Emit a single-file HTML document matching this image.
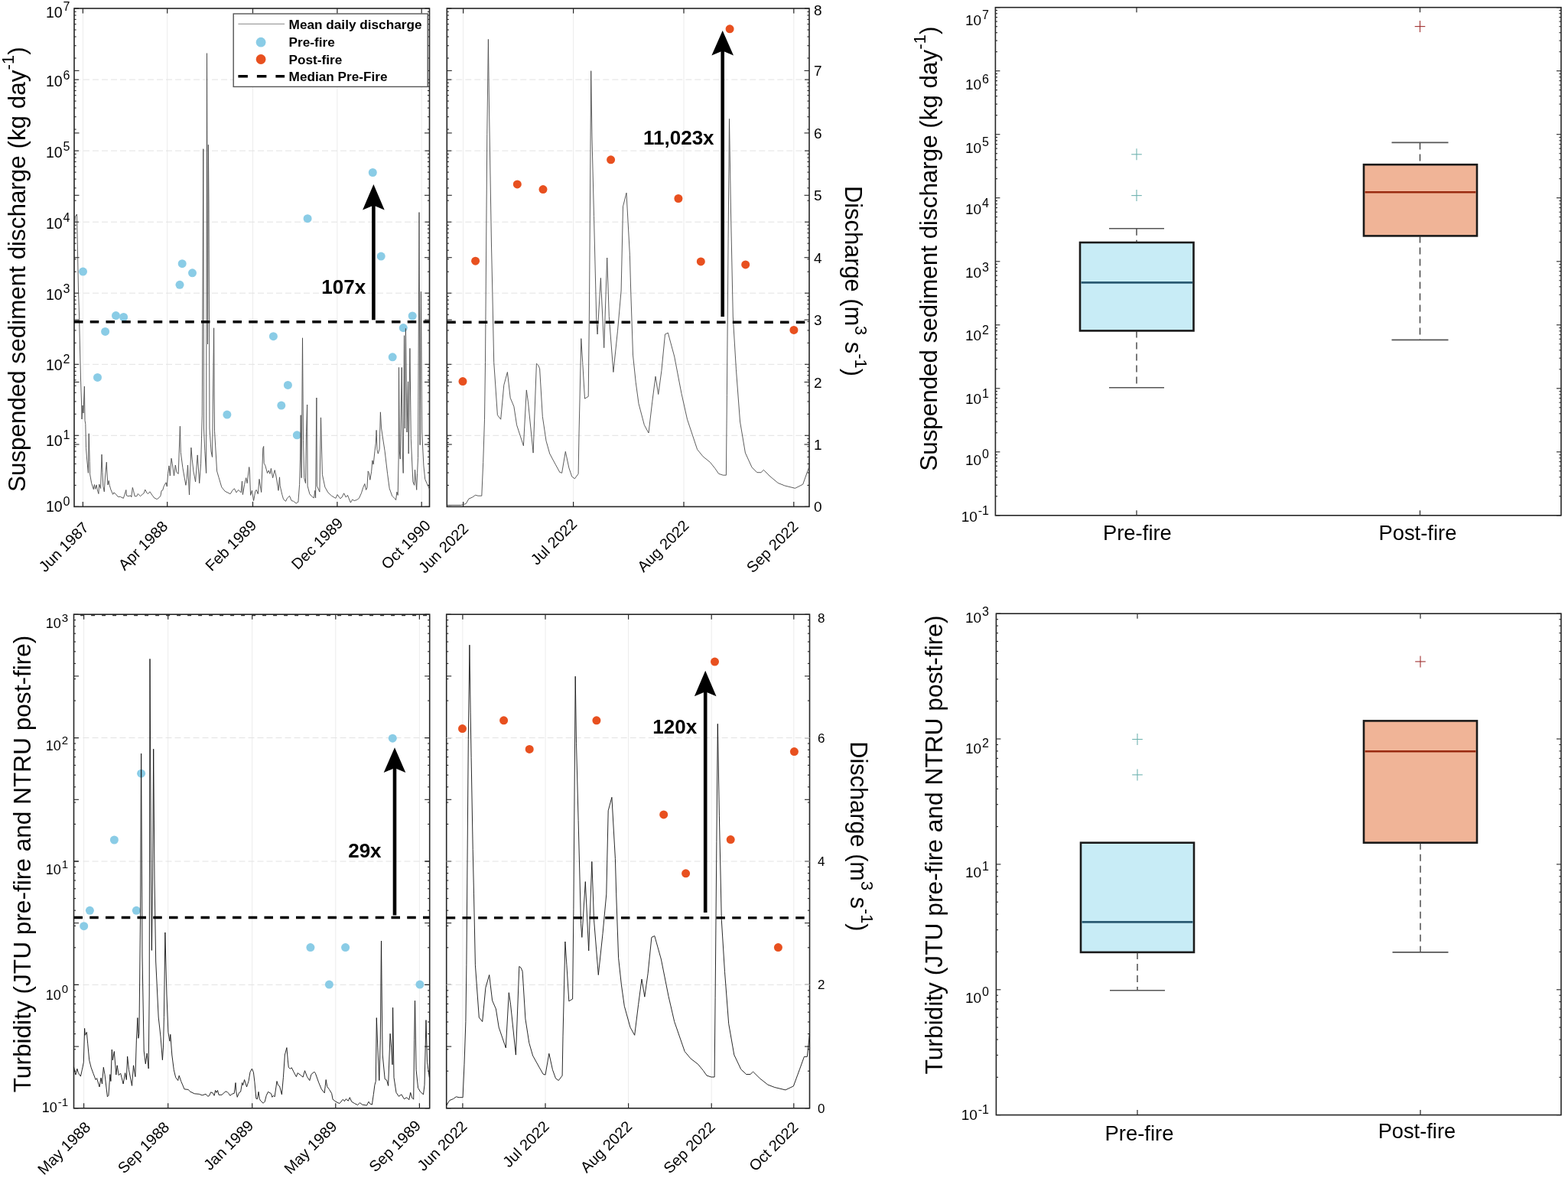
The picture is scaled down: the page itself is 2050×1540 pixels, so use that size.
<!DOCTYPE html><html><head><meta charset="utf-8"><style>html,body{margin:0;padding:0;background:#fff;overflow:hidden}svg{display:block}</style></head><body><svg width="2050" height="1540" viewBox="0 0 2050 1540" font-family='"Liberation Sans", Arial, sans-serif'>
<rect width="2050" height="1540" fill="#fff"/>
<line x1="108.4" y1="11" x2="108.4" y2="662.4" stroke="#ececec" stroke-width="1" />
<line x1="218.7" y1="11" x2="218.7" y2="662.4" stroke="#ececec" stroke-width="1" />
<line x1="330.5" y1="11" x2="330.5" y2="662.4" stroke="#ececec" stroke-width="1" />
<line x1="440.9" y1="11" x2="440.9" y2="662.4" stroke="#ececec" stroke-width="1" />
<line x1="551.2" y1="11" x2="551.2" y2="662.4" stroke="#ececec" stroke-width="1" />
<line x1="97" y1="569.3" x2="561.5" y2="569.3" stroke="#e2e2e2" stroke-width="1" stroke-dasharray="8,4"/>
<line x1="97" y1="476.3" x2="561.5" y2="476.3" stroke="#e2e2e2" stroke-width="1" stroke-dasharray="8,4"/>
<line x1="97" y1="383.2" x2="561.5" y2="383.2" stroke="#e2e2e2" stroke-width="1" stroke-dasharray="8,4"/>
<line x1="97" y1="290.2" x2="561.5" y2="290.2" stroke="#e2e2e2" stroke-width="1" stroke-dasharray="8,4"/>
<line x1="97" y1="197.1" x2="561.5" y2="197.1" stroke="#e2e2e2" stroke-width="1" stroke-dasharray="8,4"/>
<line x1="97" y1="104.1" x2="561.5" y2="104.1" stroke="#e2e2e2" stroke-width="1" stroke-dasharray="8,4"/>
<line x1="97" y1="662.4" x2="103" y2="662.4" stroke="#262626" stroke-width="1.1" />
<line x1="561.5" y1="662.4" x2="555.5" y2="662.4" stroke="#262626" stroke-width="1.1" />
<line x1="97" y1="634.4" x2="99.6" y2="634.4" stroke="#262626" stroke-width="1.1" />
<line x1="561.5" y1="634.4" x2="558.9" y2="634.4" stroke="#262626" stroke-width="1.1" />
<line x1="97" y1="618" x2="99.6" y2="618" stroke="#262626" stroke-width="1.1" />
<line x1="561.5" y1="618" x2="558.9" y2="618" stroke="#262626" stroke-width="1.1" />
<line x1="97" y1="606.4" x2="99.6" y2="606.4" stroke="#262626" stroke-width="1.1" />
<line x1="561.5" y1="606.4" x2="558.9" y2="606.4" stroke="#262626" stroke-width="1.1" />
<line x1="97" y1="597.4" x2="99.6" y2="597.4" stroke="#262626" stroke-width="1.1" />
<line x1="561.5" y1="597.4" x2="558.9" y2="597.4" stroke="#262626" stroke-width="1.1" />
<line x1="97" y1="590" x2="99.6" y2="590" stroke="#262626" stroke-width="1.1" />
<line x1="561.5" y1="590" x2="558.9" y2="590" stroke="#262626" stroke-width="1.1" />
<line x1="97" y1="583.8" x2="99.6" y2="583.8" stroke="#262626" stroke-width="1.1" />
<line x1="561.5" y1="583.8" x2="558.9" y2="583.8" stroke="#262626" stroke-width="1.1" />
<line x1="97" y1="578.4" x2="99.6" y2="578.4" stroke="#262626" stroke-width="1.1" />
<line x1="561.5" y1="578.4" x2="558.9" y2="578.4" stroke="#262626" stroke-width="1.1" />
<line x1="97" y1="573.6" x2="99.6" y2="573.6" stroke="#262626" stroke-width="1.1" />
<line x1="561.5" y1="573.6" x2="558.9" y2="573.6" stroke="#262626" stroke-width="1.1" />
<line x1="97" y1="569.3" x2="103" y2="569.3" stroke="#262626" stroke-width="1.1" />
<line x1="561.5" y1="569.3" x2="555.5" y2="569.3" stroke="#262626" stroke-width="1.1" />
<line x1="97" y1="541.3" x2="99.6" y2="541.3" stroke="#262626" stroke-width="1.1" />
<line x1="561.5" y1="541.3" x2="558.9" y2="541.3" stroke="#262626" stroke-width="1.1" />
<line x1="97" y1="524.9" x2="99.6" y2="524.9" stroke="#262626" stroke-width="1.1" />
<line x1="561.5" y1="524.9" x2="558.9" y2="524.9" stroke="#262626" stroke-width="1.1" />
<line x1="97" y1="513.3" x2="99.6" y2="513.3" stroke="#262626" stroke-width="1.1" />
<line x1="561.5" y1="513.3" x2="558.9" y2="513.3" stroke="#262626" stroke-width="1.1" />
<line x1="97" y1="504.3" x2="99.6" y2="504.3" stroke="#262626" stroke-width="1.1" />
<line x1="561.5" y1="504.3" x2="558.9" y2="504.3" stroke="#262626" stroke-width="1.1" />
<line x1="97" y1="496.9" x2="99.6" y2="496.9" stroke="#262626" stroke-width="1.1" />
<line x1="561.5" y1="496.9" x2="558.9" y2="496.9" stroke="#262626" stroke-width="1.1" />
<line x1="97" y1="490.7" x2="99.6" y2="490.7" stroke="#262626" stroke-width="1.1" />
<line x1="561.5" y1="490.7" x2="558.9" y2="490.7" stroke="#262626" stroke-width="1.1" />
<line x1="97" y1="485.3" x2="99.6" y2="485.3" stroke="#262626" stroke-width="1.1" />
<line x1="561.5" y1="485.3" x2="558.9" y2="485.3" stroke="#262626" stroke-width="1.1" />
<line x1="97" y1="480.5" x2="99.6" y2="480.5" stroke="#262626" stroke-width="1.1" />
<line x1="561.5" y1="480.5" x2="558.9" y2="480.5" stroke="#262626" stroke-width="1.1" />
<line x1="97" y1="476.3" x2="103" y2="476.3" stroke="#262626" stroke-width="1.1" />
<line x1="561.5" y1="476.3" x2="555.5" y2="476.3" stroke="#262626" stroke-width="1.1" />
<line x1="97" y1="448.3" x2="99.6" y2="448.3" stroke="#262626" stroke-width="1.1" />
<line x1="561.5" y1="448.3" x2="558.9" y2="448.3" stroke="#262626" stroke-width="1.1" />
<line x1="97" y1="431.9" x2="99.6" y2="431.9" stroke="#262626" stroke-width="1.1" />
<line x1="561.5" y1="431.9" x2="558.9" y2="431.9" stroke="#262626" stroke-width="1.1" />
<line x1="97" y1="420.3" x2="99.6" y2="420.3" stroke="#262626" stroke-width="1.1" />
<line x1="561.5" y1="420.3" x2="558.9" y2="420.3" stroke="#262626" stroke-width="1.1" />
<line x1="97" y1="411.2" x2="99.6" y2="411.2" stroke="#262626" stroke-width="1.1" />
<line x1="561.5" y1="411.2" x2="558.9" y2="411.2" stroke="#262626" stroke-width="1.1" />
<line x1="97" y1="403.9" x2="99.6" y2="403.9" stroke="#262626" stroke-width="1.1" />
<line x1="561.5" y1="403.9" x2="558.9" y2="403.9" stroke="#262626" stroke-width="1.1" />
<line x1="97" y1="397.6" x2="99.6" y2="397.6" stroke="#262626" stroke-width="1.1" />
<line x1="561.5" y1="397.6" x2="558.9" y2="397.6" stroke="#262626" stroke-width="1.1" />
<line x1="97" y1="392.2" x2="99.6" y2="392.2" stroke="#262626" stroke-width="1.1" />
<line x1="561.5" y1="392.2" x2="558.9" y2="392.2" stroke="#262626" stroke-width="1.1" />
<line x1="97" y1="387.5" x2="99.6" y2="387.5" stroke="#262626" stroke-width="1.1" />
<line x1="561.5" y1="387.5" x2="558.9" y2="387.5" stroke="#262626" stroke-width="1.1" />
<line x1="97" y1="383.2" x2="103" y2="383.2" stroke="#262626" stroke-width="1.1" />
<line x1="561.5" y1="383.2" x2="555.5" y2="383.2" stroke="#262626" stroke-width="1.1" />
<line x1="97" y1="355.2" x2="99.6" y2="355.2" stroke="#262626" stroke-width="1.1" />
<line x1="561.5" y1="355.2" x2="558.9" y2="355.2" stroke="#262626" stroke-width="1.1" />
<line x1="97" y1="338.8" x2="99.6" y2="338.8" stroke="#262626" stroke-width="1.1" />
<line x1="561.5" y1="338.8" x2="558.9" y2="338.8" stroke="#262626" stroke-width="1.1" />
<line x1="97" y1="327.2" x2="99.6" y2="327.2" stroke="#262626" stroke-width="1.1" />
<line x1="561.5" y1="327.2" x2="558.9" y2="327.2" stroke="#262626" stroke-width="1.1" />
<line x1="97" y1="318.2" x2="99.6" y2="318.2" stroke="#262626" stroke-width="1.1" />
<line x1="561.5" y1="318.2" x2="558.9" y2="318.2" stroke="#262626" stroke-width="1.1" />
<line x1="97" y1="310.8" x2="99.6" y2="310.8" stroke="#262626" stroke-width="1.1" />
<line x1="561.5" y1="310.8" x2="558.9" y2="310.8" stroke="#262626" stroke-width="1.1" />
<line x1="97" y1="304.6" x2="99.6" y2="304.6" stroke="#262626" stroke-width="1.1" />
<line x1="561.5" y1="304.6" x2="558.9" y2="304.6" stroke="#262626" stroke-width="1.1" />
<line x1="97" y1="299.2" x2="99.6" y2="299.2" stroke="#262626" stroke-width="1.1" />
<line x1="561.5" y1="299.2" x2="558.9" y2="299.2" stroke="#262626" stroke-width="1.1" />
<line x1="97" y1="294.4" x2="99.6" y2="294.4" stroke="#262626" stroke-width="1.1" />
<line x1="561.5" y1="294.4" x2="558.9" y2="294.4" stroke="#262626" stroke-width="1.1" />
<line x1="97" y1="290.2" x2="103" y2="290.2" stroke="#262626" stroke-width="1.1" />
<line x1="561.5" y1="290.2" x2="555.5" y2="290.2" stroke="#262626" stroke-width="1.1" />
<line x1="97" y1="262.2" x2="99.6" y2="262.2" stroke="#262626" stroke-width="1.1" />
<line x1="561.5" y1="262.2" x2="558.9" y2="262.2" stroke="#262626" stroke-width="1.1" />
<line x1="97" y1="245.8" x2="99.6" y2="245.8" stroke="#262626" stroke-width="1.1" />
<line x1="561.5" y1="245.8" x2="558.9" y2="245.8" stroke="#262626" stroke-width="1.1" />
<line x1="97" y1="234.1" x2="99.6" y2="234.1" stroke="#262626" stroke-width="1.1" />
<line x1="561.5" y1="234.1" x2="558.9" y2="234.1" stroke="#262626" stroke-width="1.1" />
<line x1="97" y1="225.1" x2="99.6" y2="225.1" stroke="#262626" stroke-width="1.1" />
<line x1="561.5" y1="225.1" x2="558.9" y2="225.1" stroke="#262626" stroke-width="1.1" />
<line x1="97" y1="217.8" x2="99.6" y2="217.8" stroke="#262626" stroke-width="1.1" />
<line x1="561.5" y1="217.8" x2="558.9" y2="217.8" stroke="#262626" stroke-width="1.1" />
<line x1="97" y1="211.5" x2="99.6" y2="211.5" stroke="#262626" stroke-width="1.1" />
<line x1="561.5" y1="211.5" x2="558.9" y2="211.5" stroke="#262626" stroke-width="1.1" />
<line x1="97" y1="206.1" x2="99.6" y2="206.1" stroke="#262626" stroke-width="1.1" />
<line x1="561.5" y1="206.1" x2="558.9" y2="206.1" stroke="#262626" stroke-width="1.1" />
<line x1="97" y1="201.4" x2="99.6" y2="201.4" stroke="#262626" stroke-width="1.1" />
<line x1="561.5" y1="201.4" x2="558.9" y2="201.4" stroke="#262626" stroke-width="1.1" />
<line x1="97" y1="197.1" x2="103" y2="197.1" stroke="#262626" stroke-width="1.1" />
<line x1="561.5" y1="197.1" x2="555.5" y2="197.1" stroke="#262626" stroke-width="1.1" />
<line x1="97" y1="169.1" x2="99.6" y2="169.1" stroke="#262626" stroke-width="1.1" />
<line x1="561.5" y1="169.1" x2="558.9" y2="169.1" stroke="#262626" stroke-width="1.1" />
<line x1="97" y1="152.7" x2="99.6" y2="152.7" stroke="#262626" stroke-width="1.1" />
<line x1="561.5" y1="152.7" x2="558.9" y2="152.7" stroke="#262626" stroke-width="1.1" />
<line x1="97" y1="141.1" x2="99.6" y2="141.1" stroke="#262626" stroke-width="1.1" />
<line x1="561.5" y1="141.1" x2="558.9" y2="141.1" stroke="#262626" stroke-width="1.1" />
<line x1="97" y1="132.1" x2="99.6" y2="132.1" stroke="#262626" stroke-width="1.1" />
<line x1="561.5" y1="132.1" x2="558.9" y2="132.1" stroke="#262626" stroke-width="1.1" />
<line x1="97" y1="124.7" x2="99.6" y2="124.7" stroke="#262626" stroke-width="1.1" />
<line x1="561.5" y1="124.7" x2="558.9" y2="124.7" stroke="#262626" stroke-width="1.1" />
<line x1="97" y1="118.5" x2="99.6" y2="118.5" stroke="#262626" stroke-width="1.1" />
<line x1="561.5" y1="118.5" x2="558.9" y2="118.5" stroke="#262626" stroke-width="1.1" />
<line x1="97" y1="113.1" x2="99.6" y2="113.1" stroke="#262626" stroke-width="1.1" />
<line x1="561.5" y1="113.1" x2="558.9" y2="113.1" stroke="#262626" stroke-width="1.1" />
<line x1="97" y1="108.3" x2="99.6" y2="108.3" stroke="#262626" stroke-width="1.1" />
<line x1="561.5" y1="108.3" x2="558.9" y2="108.3" stroke="#262626" stroke-width="1.1" />
<line x1="97" y1="104.1" x2="103" y2="104.1" stroke="#262626" stroke-width="1.1" />
<line x1="561.5" y1="104.1" x2="555.5" y2="104.1" stroke="#262626" stroke-width="1.1" />
<line x1="97" y1="76" x2="99.6" y2="76" stroke="#262626" stroke-width="1.1" />
<line x1="561.5" y1="76" x2="558.9" y2="76" stroke="#262626" stroke-width="1.1" />
<line x1="97" y1="59.7" x2="99.6" y2="59.7" stroke="#262626" stroke-width="1.1" />
<line x1="561.5" y1="59.7" x2="558.9" y2="59.7" stroke="#262626" stroke-width="1.1" />
<line x1="97" y1="48" x2="99.6" y2="48" stroke="#262626" stroke-width="1.1" />
<line x1="561.5" y1="48" x2="558.9" y2="48" stroke="#262626" stroke-width="1.1" />
<line x1="97" y1="39" x2="99.6" y2="39" stroke="#262626" stroke-width="1.1" />
<line x1="561.5" y1="39" x2="558.9" y2="39" stroke="#262626" stroke-width="1.1" />
<line x1="97" y1="31.6" x2="99.6" y2="31.6" stroke="#262626" stroke-width="1.1" />
<line x1="561.5" y1="31.6" x2="558.9" y2="31.6" stroke="#262626" stroke-width="1.1" />
<line x1="97" y1="25.4" x2="99.6" y2="25.4" stroke="#262626" stroke-width="1.1" />
<line x1="561.5" y1="25.4" x2="558.9" y2="25.4" stroke="#262626" stroke-width="1.1" />
<line x1="97" y1="20" x2="99.6" y2="20" stroke="#262626" stroke-width="1.1" />
<line x1="561.5" y1="20" x2="558.9" y2="20" stroke="#262626" stroke-width="1.1" />
<line x1="97" y1="15.3" x2="99.6" y2="15.3" stroke="#262626" stroke-width="1.1" />
<line x1="561.5" y1="15.3" x2="558.9" y2="15.3" stroke="#262626" stroke-width="1.1" />
<line x1="97" y1="11" x2="103" y2="11" stroke="#262626" stroke-width="1.1" />
<line x1="561.5" y1="11" x2="555.5" y2="11" stroke="#262626" stroke-width="1.1" />
<line x1="561.5" y1="581" x2="555" y2="581" stroke="#262626" stroke-width="1.1" />
<line x1="97" y1="581" x2="103.5" y2="581" stroke="#262626" stroke-width="1.1" />
<line x1="561.5" y1="499.5" x2="555" y2="499.5" stroke="#262626" stroke-width="1.1" />
<line x1="97" y1="499.5" x2="103.5" y2="499.5" stroke="#262626" stroke-width="1.1" />
<line x1="561.5" y1="418.1" x2="555" y2="418.1" stroke="#262626" stroke-width="1.1" />
<line x1="97" y1="418.1" x2="103.5" y2="418.1" stroke="#262626" stroke-width="1.1" />
<line x1="561.5" y1="336.7" x2="555" y2="336.7" stroke="#262626" stroke-width="1.1" />
<line x1="97" y1="336.7" x2="103.5" y2="336.7" stroke="#262626" stroke-width="1.1" />
<line x1="561.5" y1="255.3" x2="555" y2="255.3" stroke="#262626" stroke-width="1.1" />
<line x1="97" y1="255.3" x2="103.5" y2="255.3" stroke="#262626" stroke-width="1.1" />
<line x1="561.5" y1="173.9" x2="555" y2="173.9" stroke="#262626" stroke-width="1.1" />
<line x1="97" y1="173.9" x2="103.5" y2="173.9" stroke="#262626" stroke-width="1.1" />
<line x1="561.5" y1="92.4" x2="555" y2="92.4" stroke="#262626" stroke-width="1.1" />
<line x1="97" y1="92.4" x2="103.5" y2="92.4" stroke="#262626" stroke-width="1.1" />
<line x1="108.4" y1="662.4" x2="108.4" y2="655.9" stroke="#262626" stroke-width="1.2" />
<line x1="108.4" y1="11" x2="108.4" y2="17.5" stroke="#262626" stroke-width="1.2" />
<line x1="218.7" y1="662.4" x2="218.7" y2="655.9" stroke="#262626" stroke-width="1.2" />
<line x1="218.7" y1="11" x2="218.7" y2="17.5" stroke="#262626" stroke-width="1.2" />
<line x1="330.5" y1="662.4" x2="330.5" y2="655.9" stroke="#262626" stroke-width="1.2" />
<line x1="330.5" y1="11" x2="330.5" y2="17.5" stroke="#262626" stroke-width="1.2" />
<line x1="440.9" y1="662.4" x2="440.9" y2="655.9" stroke="#262626" stroke-width="1.2" />
<line x1="440.9" y1="11" x2="440.9" y2="17.5" stroke="#262626" stroke-width="1.2" />
<line x1="551.2" y1="662.4" x2="551.2" y2="655.9" stroke="#262626" stroke-width="1.2" />
<line x1="551.2" y1="11" x2="551.2" y2="17.5" stroke="#262626" stroke-width="1.2" />
<rect x="97" y="11" width="464.5" height="651.4" fill="none" stroke="#262626" stroke-width="1.6"/>
<circle cx="108.5" cy="355.1" r="5.5" fill="#8acce6"/>
<circle cx="238.2" cy="344.7" r="5.5" fill="#8acce6"/>
<circle cx="251.5" cy="356.8" r="5.5" fill="#8acce6"/>
<circle cx="235" cy="372.3" r="5.5" fill="#8acce6"/>
<circle cx="151.5" cy="412.6" r="5.5" fill="#8acce6"/>
<circle cx="161.6" cy="414.5" r="5.5" fill="#8acce6"/>
<circle cx="137.6" cy="433.4" r="5.5" fill="#8acce6"/>
<circle cx="127.5" cy="493.4" r="5.5" fill="#8acce6"/>
<circle cx="487.3" cy="225.5" r="5.5" fill="#8acce6"/>
<circle cx="402.1" cy="285.7" r="5.5" fill="#8acce6"/>
<circle cx="498.2" cy="335.1" r="5.5" fill="#8acce6"/>
<circle cx="539.2" cy="413" r="5.5" fill="#8acce6"/>
<circle cx="527.3" cy="428.6" r="5.5" fill="#8acce6"/>
<circle cx="357.4" cy="439.7" r="5.5" fill="#8acce6"/>
<circle cx="513.2" cy="466.8" r="5.5" fill="#8acce6"/>
<circle cx="376.4" cy="503.4" r="5.5" fill="#8acce6"/>
<circle cx="367.8" cy="530.1" r="5.5" fill="#8acce6"/>
<circle cx="296.9" cy="542.1" r="5.5" fill="#8acce6"/>
<circle cx="388.3" cy="568.8" r="5.5" fill="#8acce6"/>
<polyline points="97.5,295 98.5,283 100.5,280 101.5,330 102.5,380 103.5,410 104.5,455 105.5,495 106.5,525 107,548 108,530 109,540 110.4,505 111,549.7 111.8,554.4 112.5,585.5 113.7,601.1 115.4,618.3 116.2,566.8 117.2,603.5 117.6,619.8 119.6,631.5 122.3,639.7 123.4,633.5 124.6,639.3 126.2,633.9 127,639.3 128.9,645.5 129.7,633.1 131.6,638.5 133,594.1 134,617.5 134.8,635.4 136.3,642.8 137.5,623 139.3,604.2 140.2,623 141,633.9 142.2,628.4 143.3,634.6 144.9,640.1 147.6,646.3 148.8,644 151.1,645.5 154.2,649.4 157.4,649.4 161.3,651.4 162.8,647.1 164.8,640.5 165.5,647.9 167.9,648.7 171,647.9 171.8,649.8 173.3,637.4 174.5,641.6 176.1,648.7 178.8,648.7 180.3,645.5 183.5,648.7 186.2,646.3 188.1,644.8 189.7,640.1 192.4,644.8 193.6,645.5 195.9,642.8 199.4,647.9 201.8,651 205.3,652.6 208.8,649.8 210,647.9 211.1,641.6 212.7,640.9 214.2,635.8 217,630.8 218.3,636 219.6,619.4 221,608.9 222.3,622 224,599.2 225.3,606.2 227.5,622 229.3,608 231,617.6 233.2,619.4 235.4,557.2 236.3,591.3 238.9,611.5 242.9,634.3 244.2,626.4 245.5,608 247.5,647 249.9,585.2 251.2,600.1 252.9,615.9 255.6,629.9 258.2,594.9 260.7,631.7 262.6,606.2 263.5,573.8 264.3,543.1 265.8,194.7 266.5,560 267.8,589.6 269.6,618.5 270.5,69.7 271.5,450 272.4,189.3 273,267 274,560 276,590 277.5,597.5 279.6,428.8 280.5,563.3 283.6,615.9 286.2,624.7 289.8,636.9 294.1,642.2 301.1,645.7 303.8,641.3 306.4,638.7 309,643.9 311.7,640.4 315.2,643.9 316.5,629 317.4,646.6 319.6,633.4 321.7,624.7 323.1,631.7 325.7,610.6 326.3,615 327.6,647.4 329.4,641.3 331.6,654.5 333.8,642.2 335.1,640.4 337.3,645.7 339,626.4 340.3,635.2 341.7,643.5 343,608.9 343.8,586.1 344.7,583.5 345.2,605.4 346.9,608.9 349.5,618.5 351.3,615 353,619.4 354.4,612.4 356.6,624.7 359.2,614.6 360.9,622 364,641.3 365.5,623.8 366.2,635.2 368.8,646.6 370.6,652.7 373.6,655.3 375.4,651.4 378.5,648.3 381.1,654.5 383.7,655.3 387.2,658 389.9,656.2 391.6,633.4 392.5,600 393.2,542.7 394.2,624.7 395.5,441.8 396.5,575.6 397.7,624.7 399.5,631.7 400.5,564.2 401.6,529 402.1,635.2 404.8,645.7 407.8,649.2 410.5,650.9 411.8,641.3 412.6,650.9 413.9,520 414.4,635.2 417.9,643.1 419.5,545.9 421.4,620.3 424.9,636.9 428.9,643.9 433.7,648.3 438.9,651.4 441.1,646.6 444.8,651.8 447,650.1 449.6,644.8 452.3,650.1 454.5,647.4 456.2,651.8 458.4,657.1 460.6,653.1 463.2,654.5 466.3,653.6 469.4,651.4 472.4,644.8 474.6,637.8 476.8,632.5 478.6,640.4 479.9,637.8 481.2,615.9 482.5,618.5 483.8,627.3 485.6,616.8 486.9,601.9 488.2,607.1 490,589.6 491.3,579.1 492.1,562.4 493,587.8 494.3,593.1 496.1,587 497.4,538.8 498.5,558.9 500,569.4 503.1,589.6 506.6,619.4 509.2,638.7 512.7,648.3 516.2,651.8 517.6,653.6 518.9,643.1 520.2,647.4 521.1,600.1 521.5,480.4 522.3,590 523.3,600.1 525.2,480.4 526.2,590 527.2,618.5 528.5,438.7 529.4,560 530.4,429.4 532,565 533.5,498.9 534.2,593.1 535.9,455.4 537.3,573.8 539.9,629.9 541.7,634.3 542.5,614.1 544.7,640.4 545.6,618.5 546.5,598.4 548,277.6 549.1,581.7 550.4,381.3 551.7,565 553.9,608.9 555.7,626.4 558.3,632.5 560.9,637.8 561.5,640" fill="none" stroke="#4a4a4a" stroke-width="0.9" stroke-linejoin="round"/>
<line x1="97" y1="420.8" x2="561.5" y2="420.8" stroke="#000" stroke-width="3.4" stroke-dasharray="11.5,9.25"/>
<line x1="488.4" y1="418.2" x2="488.4" y2="267.5" stroke="#000" stroke-width="4.6" />
<path d="M488.4,240.9 L502.7,274.5 L488.4,268.5 L474.1,274.5 Z" fill="#000"/>
<text x="420.3" y="384.4" font-size="26" text-anchor="start" font-weight="bold" fill="#000" >107x</text>
<rect x="305.2" y="18" width="254" height="95.4" fill="#fff" stroke="#555" stroke-width="1.4"/>
<line x1="311.4" y1="31.3" x2="372.1" y2="31.3" stroke="#888" stroke-width="1" />
<circle cx="341.1" cy="55.2" r="6.4" fill="#8acce6"/>
<circle cx="341.1" cy="77.5" r="6.4" fill="#e8501f"/>
<line x1="311.4" y1="99.8" x2="372.1" y2="99.8" stroke="#000" stroke-width="3.6" stroke-dasharray="12.5,12"/>
<text x="377.6" y="38.2" font-size="17.2" text-anchor="start" font-weight="bold" fill="#000" font-family="Liberation Sans, Arial, sans-serif">Mean daily discharge</text>
<text x="377.6" y="61.4" font-size="17.2" text-anchor="start" font-weight="bold" fill="#000" font-family="Liberation Sans, Arial, sans-serif">Pre-fire</text>
<text x="377.6" y="84.3" font-size="17.2" text-anchor="start" font-weight="bold" fill="#000" font-family="Liberation Sans, Arial, sans-serif">Post-fire</text>
<text x="377.6" y="106.3" font-size="17.2" text-anchor="start" font-weight="bold" fill="#000" font-family="Liberation Sans, Arial, sans-serif">Median Pre-Fire</text>
<text x="91.5" y="669.3" font-size="19.5" text-anchor="end">10<tspan font-size="16" dx="1" dy="-8.8">0</tspan></text>
<text x="91.5" y="582.5" font-size="19.5" text-anchor="end">10<tspan font-size="16" dx="1" dy="-8.8">1</tspan></text>
<text x="91.5" y="483.5" font-size="19.5" text-anchor="end">10<tspan font-size="16" dx="1" dy="-8.8">2</tspan></text>
<text x="91.5" y="392.2" font-size="19.5" text-anchor="end">10<tspan font-size="16" dx="1" dy="-8.8">3</tspan></text>
<text x="91.5" y="298.9" font-size="19.5" text-anchor="end">10<tspan font-size="16" dx="1" dy="-8.8">4</tspan></text>
<text x="91.5" y="205.7" font-size="19.5" text-anchor="end">10<tspan font-size="16" dx="1" dy="-8.8">5</tspan></text>
<text x="91.5" y="112.6" font-size="19.5" text-anchor="end">10<tspan font-size="16" dx="1" dy="-8.8">6</tspan></text>
<text x="91.5" y="23" font-size="19.5" text-anchor="end">10<tspan font-size="16" dx="1" dy="-8.8">7</tspan></text>
<text x="117.2" y="690.8" font-size="20" text-anchor="end" transform="rotate(-45 117.2 690.8)">Jun 1987</text>
<text x="220.5" y="689.4" font-size="20" text-anchor="end" transform="rotate(-45 220.5 689.4)">Apr 1988</text>
<text x="336.5" y="688" font-size="20" text-anchor="end" transform="rotate(-45 336.5 688)">Feb 1989</text>
<text x="449.7" y="685.2" font-size="20" text-anchor="end" transform="rotate(-45 449.7 685.2)">Dec 1989</text>
<text x="564.2" y="688" font-size="20" text-anchor="end" transform="rotate(-45 564.2 688)">Oct 1990</text>
<text font-size="31" transform="translate(33 643) rotate(-90) scale(1.013 1)">Suspended sediment discharge (kg day<tspan font-size="22" dy="-15">-1</tspan><tspan dy="15">)</tspan></text>
<line x1="605.6" y1="11" x2="605.6" y2="662.4" stroke="#ececec" stroke-width="1" />
<line x1="749.6" y1="11" x2="749.6" y2="662.4" stroke="#ececec" stroke-width="1" />
<line x1="894" y1="11" x2="894" y2="662.4" stroke="#ececec" stroke-width="1" />
<line x1="1037.8" y1="11" x2="1037.8" y2="662.4" stroke="#ececec" stroke-width="1" />
<line x1="584.3" y1="569.3" x2="1058" y2="569.3" stroke="#e2e2e2" stroke-width="1" stroke-dasharray="8,4"/>
<line x1="584.3" y1="476.3" x2="1058" y2="476.3" stroke="#e2e2e2" stroke-width="1" stroke-dasharray="8,4"/>
<line x1="584.3" y1="383.2" x2="1058" y2="383.2" stroke="#e2e2e2" stroke-width="1" stroke-dasharray="8,4"/>
<line x1="584.3" y1="290.2" x2="1058" y2="290.2" stroke="#e2e2e2" stroke-width="1" stroke-dasharray="8,4"/>
<line x1="584.3" y1="197.1" x2="1058" y2="197.1" stroke="#e2e2e2" stroke-width="1" stroke-dasharray="8,4"/>
<line x1="584.3" y1="104.1" x2="1058" y2="104.1" stroke="#e2e2e2" stroke-width="1" stroke-dasharray="8,4"/>
<line x1="584.3" y1="662.4" x2="590.3" y2="662.4" stroke="#262626" stroke-width="1.1" />
<line x1="1058" y1="662.4" x2="1052" y2="662.4" stroke="#262626" stroke-width="1.1" />
<line x1="584.3" y1="634.4" x2="586.9" y2="634.4" stroke="#262626" stroke-width="1.1" />
<line x1="1058" y1="634.4" x2="1055.4" y2="634.4" stroke="#262626" stroke-width="1.1" />
<line x1="584.3" y1="618" x2="586.9" y2="618" stroke="#262626" stroke-width="1.1" />
<line x1="1058" y1="618" x2="1055.4" y2="618" stroke="#262626" stroke-width="1.1" />
<line x1="584.3" y1="606.4" x2="586.9" y2="606.4" stroke="#262626" stroke-width="1.1" />
<line x1="1058" y1="606.4" x2="1055.4" y2="606.4" stroke="#262626" stroke-width="1.1" />
<line x1="584.3" y1="597.4" x2="586.9" y2="597.4" stroke="#262626" stroke-width="1.1" />
<line x1="1058" y1="597.4" x2="1055.4" y2="597.4" stroke="#262626" stroke-width="1.1" />
<line x1="584.3" y1="590" x2="586.9" y2="590" stroke="#262626" stroke-width="1.1" />
<line x1="1058" y1="590" x2="1055.4" y2="590" stroke="#262626" stroke-width="1.1" />
<line x1="584.3" y1="583.8" x2="586.9" y2="583.8" stroke="#262626" stroke-width="1.1" />
<line x1="1058" y1="583.8" x2="1055.4" y2="583.8" stroke="#262626" stroke-width="1.1" />
<line x1="584.3" y1="578.4" x2="586.9" y2="578.4" stroke="#262626" stroke-width="1.1" />
<line x1="1058" y1="578.4" x2="1055.4" y2="578.4" stroke="#262626" stroke-width="1.1" />
<line x1="584.3" y1="573.6" x2="586.9" y2="573.6" stroke="#262626" stroke-width="1.1" />
<line x1="1058" y1="573.6" x2="1055.4" y2="573.6" stroke="#262626" stroke-width="1.1" />
<line x1="584.3" y1="569.3" x2="590.3" y2="569.3" stroke="#262626" stroke-width="1.1" />
<line x1="1058" y1="569.3" x2="1052" y2="569.3" stroke="#262626" stroke-width="1.1" />
<line x1="584.3" y1="541.3" x2="586.9" y2="541.3" stroke="#262626" stroke-width="1.1" />
<line x1="1058" y1="541.3" x2="1055.4" y2="541.3" stroke="#262626" stroke-width="1.1" />
<line x1="584.3" y1="524.9" x2="586.9" y2="524.9" stroke="#262626" stroke-width="1.1" />
<line x1="1058" y1="524.9" x2="1055.4" y2="524.9" stroke="#262626" stroke-width="1.1" />
<line x1="584.3" y1="513.3" x2="586.9" y2="513.3" stroke="#262626" stroke-width="1.1" />
<line x1="1058" y1="513.3" x2="1055.4" y2="513.3" stroke="#262626" stroke-width="1.1" />
<line x1="584.3" y1="504.3" x2="586.9" y2="504.3" stroke="#262626" stroke-width="1.1" />
<line x1="1058" y1="504.3" x2="1055.4" y2="504.3" stroke="#262626" stroke-width="1.1" />
<line x1="584.3" y1="496.9" x2="586.9" y2="496.9" stroke="#262626" stroke-width="1.1" />
<line x1="1058" y1="496.9" x2="1055.4" y2="496.9" stroke="#262626" stroke-width="1.1" />
<line x1="584.3" y1="490.7" x2="586.9" y2="490.7" stroke="#262626" stroke-width="1.1" />
<line x1="1058" y1="490.7" x2="1055.4" y2="490.7" stroke="#262626" stroke-width="1.1" />
<line x1="584.3" y1="485.3" x2="586.9" y2="485.3" stroke="#262626" stroke-width="1.1" />
<line x1="1058" y1="485.3" x2="1055.4" y2="485.3" stroke="#262626" stroke-width="1.1" />
<line x1="584.3" y1="480.5" x2="586.9" y2="480.5" stroke="#262626" stroke-width="1.1" />
<line x1="1058" y1="480.5" x2="1055.4" y2="480.5" stroke="#262626" stroke-width="1.1" />
<line x1="584.3" y1="476.3" x2="590.3" y2="476.3" stroke="#262626" stroke-width="1.1" />
<line x1="1058" y1="476.3" x2="1052" y2="476.3" stroke="#262626" stroke-width="1.1" />
<line x1="584.3" y1="448.3" x2="586.9" y2="448.3" stroke="#262626" stroke-width="1.1" />
<line x1="1058" y1="448.3" x2="1055.4" y2="448.3" stroke="#262626" stroke-width="1.1" />
<line x1="584.3" y1="431.9" x2="586.9" y2="431.9" stroke="#262626" stroke-width="1.1" />
<line x1="1058" y1="431.9" x2="1055.4" y2="431.9" stroke="#262626" stroke-width="1.1" />
<line x1="584.3" y1="420.3" x2="586.9" y2="420.3" stroke="#262626" stroke-width="1.1" />
<line x1="1058" y1="420.3" x2="1055.4" y2="420.3" stroke="#262626" stroke-width="1.1" />
<line x1="584.3" y1="411.2" x2="586.9" y2="411.2" stroke="#262626" stroke-width="1.1" />
<line x1="1058" y1="411.2" x2="1055.4" y2="411.2" stroke="#262626" stroke-width="1.1" />
<line x1="584.3" y1="403.9" x2="586.9" y2="403.9" stroke="#262626" stroke-width="1.1" />
<line x1="1058" y1="403.9" x2="1055.4" y2="403.9" stroke="#262626" stroke-width="1.1" />
<line x1="584.3" y1="397.6" x2="586.9" y2="397.6" stroke="#262626" stroke-width="1.1" />
<line x1="1058" y1="397.6" x2="1055.4" y2="397.6" stroke="#262626" stroke-width="1.1" />
<line x1="584.3" y1="392.2" x2="586.9" y2="392.2" stroke="#262626" stroke-width="1.1" />
<line x1="1058" y1="392.2" x2="1055.4" y2="392.2" stroke="#262626" stroke-width="1.1" />
<line x1="584.3" y1="387.5" x2="586.9" y2="387.5" stroke="#262626" stroke-width="1.1" />
<line x1="1058" y1="387.5" x2="1055.4" y2="387.5" stroke="#262626" stroke-width="1.1" />
<line x1="584.3" y1="383.2" x2="590.3" y2="383.2" stroke="#262626" stroke-width="1.1" />
<line x1="1058" y1="383.2" x2="1052" y2="383.2" stroke="#262626" stroke-width="1.1" />
<line x1="584.3" y1="355.2" x2="586.9" y2="355.2" stroke="#262626" stroke-width="1.1" />
<line x1="1058" y1="355.2" x2="1055.4" y2="355.2" stroke="#262626" stroke-width="1.1" />
<line x1="584.3" y1="338.8" x2="586.9" y2="338.8" stroke="#262626" stroke-width="1.1" />
<line x1="1058" y1="338.8" x2="1055.4" y2="338.8" stroke="#262626" stroke-width="1.1" />
<line x1="584.3" y1="327.2" x2="586.9" y2="327.2" stroke="#262626" stroke-width="1.1" />
<line x1="1058" y1="327.2" x2="1055.4" y2="327.2" stroke="#262626" stroke-width="1.1" />
<line x1="584.3" y1="318.2" x2="586.9" y2="318.2" stroke="#262626" stroke-width="1.1" />
<line x1="1058" y1="318.2" x2="1055.4" y2="318.2" stroke="#262626" stroke-width="1.1" />
<line x1="584.3" y1="310.8" x2="586.9" y2="310.8" stroke="#262626" stroke-width="1.1" />
<line x1="1058" y1="310.8" x2="1055.4" y2="310.8" stroke="#262626" stroke-width="1.1" />
<line x1="584.3" y1="304.6" x2="586.9" y2="304.6" stroke="#262626" stroke-width="1.1" />
<line x1="1058" y1="304.6" x2="1055.4" y2="304.6" stroke="#262626" stroke-width="1.1" />
<line x1="584.3" y1="299.2" x2="586.9" y2="299.2" stroke="#262626" stroke-width="1.1" />
<line x1="1058" y1="299.2" x2="1055.4" y2="299.2" stroke="#262626" stroke-width="1.1" />
<line x1="584.3" y1="294.4" x2="586.9" y2="294.4" stroke="#262626" stroke-width="1.1" />
<line x1="1058" y1="294.4" x2="1055.4" y2="294.4" stroke="#262626" stroke-width="1.1" />
<line x1="584.3" y1="290.2" x2="590.3" y2="290.2" stroke="#262626" stroke-width="1.1" />
<line x1="1058" y1="290.2" x2="1052" y2="290.2" stroke="#262626" stroke-width="1.1" />
<line x1="584.3" y1="262.2" x2="586.9" y2="262.2" stroke="#262626" stroke-width="1.1" />
<line x1="1058" y1="262.2" x2="1055.4" y2="262.2" stroke="#262626" stroke-width="1.1" />
<line x1="584.3" y1="245.8" x2="586.9" y2="245.8" stroke="#262626" stroke-width="1.1" />
<line x1="1058" y1="245.8" x2="1055.4" y2="245.8" stroke="#262626" stroke-width="1.1" />
<line x1="584.3" y1="234.1" x2="586.9" y2="234.1" stroke="#262626" stroke-width="1.1" />
<line x1="1058" y1="234.1" x2="1055.4" y2="234.1" stroke="#262626" stroke-width="1.1" />
<line x1="584.3" y1="225.1" x2="586.9" y2="225.1" stroke="#262626" stroke-width="1.1" />
<line x1="1058" y1="225.1" x2="1055.4" y2="225.1" stroke="#262626" stroke-width="1.1" />
<line x1="584.3" y1="217.8" x2="586.9" y2="217.8" stroke="#262626" stroke-width="1.1" />
<line x1="1058" y1="217.8" x2="1055.4" y2="217.8" stroke="#262626" stroke-width="1.1" />
<line x1="584.3" y1="211.5" x2="586.9" y2="211.5" stroke="#262626" stroke-width="1.1" />
<line x1="1058" y1="211.5" x2="1055.4" y2="211.5" stroke="#262626" stroke-width="1.1" />
<line x1="584.3" y1="206.1" x2="586.9" y2="206.1" stroke="#262626" stroke-width="1.1" />
<line x1="1058" y1="206.1" x2="1055.4" y2="206.1" stroke="#262626" stroke-width="1.1" />
<line x1="584.3" y1="201.4" x2="586.9" y2="201.4" stroke="#262626" stroke-width="1.1" />
<line x1="1058" y1="201.4" x2="1055.4" y2="201.4" stroke="#262626" stroke-width="1.1" />
<line x1="584.3" y1="197.1" x2="590.3" y2="197.1" stroke="#262626" stroke-width="1.1" />
<line x1="1058" y1="197.1" x2="1052" y2="197.1" stroke="#262626" stroke-width="1.1" />
<line x1="584.3" y1="169.1" x2="586.9" y2="169.1" stroke="#262626" stroke-width="1.1" />
<line x1="1058" y1="169.1" x2="1055.4" y2="169.1" stroke="#262626" stroke-width="1.1" />
<line x1="584.3" y1="152.7" x2="586.9" y2="152.7" stroke="#262626" stroke-width="1.1" />
<line x1="1058" y1="152.7" x2="1055.4" y2="152.7" stroke="#262626" stroke-width="1.1" />
<line x1="584.3" y1="141.1" x2="586.9" y2="141.1" stroke="#262626" stroke-width="1.1" />
<line x1="1058" y1="141.1" x2="1055.4" y2="141.1" stroke="#262626" stroke-width="1.1" />
<line x1="584.3" y1="132.1" x2="586.9" y2="132.1" stroke="#262626" stroke-width="1.1" />
<line x1="1058" y1="132.1" x2="1055.4" y2="132.1" stroke="#262626" stroke-width="1.1" />
<line x1="584.3" y1="124.7" x2="586.9" y2="124.7" stroke="#262626" stroke-width="1.1" />
<line x1="1058" y1="124.7" x2="1055.4" y2="124.7" stroke="#262626" stroke-width="1.1" />
<line x1="584.3" y1="118.5" x2="586.9" y2="118.5" stroke="#262626" stroke-width="1.1" />
<line x1="1058" y1="118.5" x2="1055.4" y2="118.5" stroke="#262626" stroke-width="1.1" />
<line x1="584.3" y1="113.1" x2="586.9" y2="113.1" stroke="#262626" stroke-width="1.1" />
<line x1="1058" y1="113.1" x2="1055.4" y2="113.1" stroke="#262626" stroke-width="1.1" />
<line x1="584.3" y1="108.3" x2="586.9" y2="108.3" stroke="#262626" stroke-width="1.1" />
<line x1="1058" y1="108.3" x2="1055.4" y2="108.3" stroke="#262626" stroke-width="1.1" />
<line x1="584.3" y1="104.1" x2="590.3" y2="104.1" stroke="#262626" stroke-width="1.1" />
<line x1="1058" y1="104.1" x2="1052" y2="104.1" stroke="#262626" stroke-width="1.1" />
<line x1="584.3" y1="76" x2="586.9" y2="76" stroke="#262626" stroke-width="1.1" />
<line x1="1058" y1="76" x2="1055.4" y2="76" stroke="#262626" stroke-width="1.1" />
<line x1="584.3" y1="59.7" x2="586.9" y2="59.7" stroke="#262626" stroke-width="1.1" />
<line x1="1058" y1="59.7" x2="1055.4" y2="59.7" stroke="#262626" stroke-width="1.1" />
<line x1="584.3" y1="48" x2="586.9" y2="48" stroke="#262626" stroke-width="1.1" />
<line x1="1058" y1="48" x2="1055.4" y2="48" stroke="#262626" stroke-width="1.1" />
<line x1="584.3" y1="39" x2="586.9" y2="39" stroke="#262626" stroke-width="1.1" />
<line x1="1058" y1="39" x2="1055.4" y2="39" stroke="#262626" stroke-width="1.1" />
<line x1="584.3" y1="31.6" x2="586.9" y2="31.6" stroke="#262626" stroke-width="1.1" />
<line x1="1058" y1="31.6" x2="1055.4" y2="31.6" stroke="#262626" stroke-width="1.1" />
<line x1="584.3" y1="25.4" x2="586.9" y2="25.4" stroke="#262626" stroke-width="1.1" />
<line x1="1058" y1="25.4" x2="1055.4" y2="25.4" stroke="#262626" stroke-width="1.1" />
<line x1="584.3" y1="20" x2="586.9" y2="20" stroke="#262626" stroke-width="1.1" />
<line x1="1058" y1="20" x2="1055.4" y2="20" stroke="#262626" stroke-width="1.1" />
<line x1="584.3" y1="15.3" x2="586.9" y2="15.3" stroke="#262626" stroke-width="1.1" />
<line x1="1058" y1="15.3" x2="1055.4" y2="15.3" stroke="#262626" stroke-width="1.1" />
<line x1="584.3" y1="11" x2="590.3" y2="11" stroke="#262626" stroke-width="1.1" />
<line x1="1058" y1="11" x2="1052" y2="11" stroke="#262626" stroke-width="1.1" />
<line x1="1058" y1="581" x2="1051.5" y2="581" stroke="#262626" stroke-width="1.1" />
<line x1="584.3" y1="581" x2="590.8" y2="581" stroke="#262626" stroke-width="1.1" />
<line x1="1058" y1="499.5" x2="1051.5" y2="499.5" stroke="#262626" stroke-width="1.1" />
<line x1="584.3" y1="499.5" x2="590.8" y2="499.5" stroke="#262626" stroke-width="1.1" />
<line x1="1058" y1="418.1" x2="1051.5" y2="418.1" stroke="#262626" stroke-width="1.1" />
<line x1="584.3" y1="418.1" x2="590.8" y2="418.1" stroke="#262626" stroke-width="1.1" />
<line x1="1058" y1="336.7" x2="1051.5" y2="336.7" stroke="#262626" stroke-width="1.1" />
<line x1="584.3" y1="336.7" x2="590.8" y2="336.7" stroke="#262626" stroke-width="1.1" />
<line x1="1058" y1="255.3" x2="1051.5" y2="255.3" stroke="#262626" stroke-width="1.1" />
<line x1="584.3" y1="255.3" x2="590.8" y2="255.3" stroke="#262626" stroke-width="1.1" />
<line x1="1058" y1="173.9" x2="1051.5" y2="173.9" stroke="#262626" stroke-width="1.1" />
<line x1="584.3" y1="173.9" x2="590.8" y2="173.9" stroke="#262626" stroke-width="1.1" />
<line x1="1058" y1="92.4" x2="1051.5" y2="92.4" stroke="#262626" stroke-width="1.1" />
<line x1="584.3" y1="92.4" x2="590.8" y2="92.4" stroke="#262626" stroke-width="1.1" />
<line x1="605.6" y1="662.4" x2="605.6" y2="655.9" stroke="#262626" stroke-width="1.2" />
<line x1="605.6" y1="11" x2="605.6" y2="17.5" stroke="#262626" stroke-width="1.2" />
<line x1="749.6" y1="662.4" x2="749.6" y2="655.9" stroke="#262626" stroke-width="1.2" />
<line x1="749.6" y1="11" x2="749.6" y2="17.5" stroke="#262626" stroke-width="1.2" />
<line x1="894" y1="662.4" x2="894" y2="655.9" stroke="#262626" stroke-width="1.2" />
<line x1="894" y1="11" x2="894" y2="17.5" stroke="#262626" stroke-width="1.2" />
<line x1="1037.8" y1="662.4" x2="1037.8" y2="655.9" stroke="#262626" stroke-width="1.2" />
<line x1="1037.8" y1="11" x2="1037.8" y2="17.5" stroke="#262626" stroke-width="1.2" />
<rect x="584.3" y="11" width="473.7" height="651.4" fill="none" stroke="#262626" stroke-width="1.6"/>
<circle cx="605" cy="498.6" r="5.5" fill="#e8501f"/>
<circle cx="621.6" cy="341.2" r="5.5" fill="#e8501f"/>
<circle cx="676.3" cy="240.9" r="5.5" fill="#e8501f"/>
<circle cx="710" cy="247.6" r="5.5" fill="#e8501f"/>
<circle cx="798.6" cy="208.8" r="5.5" fill="#e8501f"/>
<circle cx="954.1" cy="37.8" r="5.5" fill="#e8501f"/>
<circle cx="886.9" cy="259.5" r="5.5" fill="#e8501f"/>
<circle cx="916.3" cy="341.9" r="5.5" fill="#e8501f"/>
<circle cx="974.7" cy="345.9" r="5.5" fill="#e8501f"/>
<circle cx="1037.9" cy="431.4" r="5.5" fill="#e8501f"/>
<polyline points="584.9,660.4 602.7,660.4 606.4,659.4 609.2,658.5 613,652 617.6,650.1 621.4,647.3 625.1,648.2 629.8,648.2 631.7,604.3 633.5,548.2 634.5,473.5 636.8,175.7 638.4,51.4 639.5,140 640.5,200 642.5,321 643.8,380 645.7,473.5 650.4,542.6 654.7,548.2 658.8,503.4 663.4,486.5 667.2,520.2 671.9,531.4 675.6,555.7 684.4,582.8 688.3,509.9 690.5,525.8 697.1,592.1 701.4,475.3 703.6,477.2 705.6,481.9 709.3,544.5 714,576.3 718.7,593.1 726.2,607.1 731.8,617.4 734.6,618.3 739.3,590.3 743.9,611.8 747.7,623 751.4,625.8 756.1,619.3 757,566.9 759.8,442.6 761.7,473.5 764.5,521.1 769.2,518.3 770.5,400 772.7,92.7 774,181 776.5,282.5 779.8,419.2 781.1,437 785.4,363.5 789.7,454.7 793.7,337 796.3,413.6 801.9,486.5 807.5,432.3 812.1,380 814.5,269.9 819,252.2 823.4,333.2 824.7,380 827.5,464.1 831.2,499.6 835,527.7 842.4,555.7 848,566 852.7,525.8 857,492.1 860.7,515.5 864.9,484.7 869.5,437 873.3,435.1 881.7,466 891,514.6 898.5,548.2 911.6,587.5 919.1,596.8 928.4,604.3 935,612.6 939.6,619.3 945.3,621.2 949.4,621.2 950.4,516.7 952.1,311.2 953.5,155.4 955.5,277 958.3,414 962.4,482.5 967.5,551 974.4,592 983,610.9 989.8,617.7 994.9,617.7 998.4,614.3 1006.9,622.9 1017.2,631.4 1025.8,634.9 1039.5,638.3 1049.7,633.2 1057.6,610.9" fill="none" stroke="#4a4a4a" stroke-width="0.9" stroke-linejoin="round"/>
<line x1="584.3" y1="421.3" x2="1058" y2="421.3" stroke="#000" stroke-width="3.4" stroke-dasharray="11.5,9.25"/>
<line x1="944.7" y1="413.9" x2="944.7" y2="65.6" stroke="#000" stroke-width="4.6" />
<path d="M944.7,39.9 L959,72.6 L944.7,66.6 L930.4,72.6 Z" fill="#000"/>
<text x="841" y="189.2" font-size="26" text-anchor="start" font-weight="bold" fill="#000" >11,023x</text>
<text x="1064" y="669.4" font-size="19" text-anchor="start" font-weight="normal" fill="#000" >0</text>
<text x="1064" y="588" font-size="19" text-anchor="start" font-weight="normal" fill="#000" >1</text>
<text x="1064" y="506.5" font-size="19" text-anchor="start" font-weight="normal" fill="#000" >2</text>
<text x="1064" y="425.1" font-size="19" text-anchor="start" font-weight="normal" fill="#000" >3</text>
<text x="1064" y="343.7" font-size="19" text-anchor="start" font-weight="normal" fill="#000" >4</text>
<text x="1064" y="262.3" font-size="19" text-anchor="start" font-weight="normal" fill="#000" >5</text>
<text x="1064" y="180.9" font-size="19" text-anchor="start" font-weight="normal" fill="#000" >6</text>
<text x="1064" y="99.4" font-size="19" text-anchor="start" font-weight="normal" fill="#000" >7</text>
<text x="1064" y="20" font-size="19" text-anchor="start" font-weight="normal" fill="#000" >8</text>
<text x="613.6" y="692.4" font-size="20" text-anchor="end" transform="rotate(-45 613.6 692.4)">Jun 2022</text>
<text x="755.6" y="686.4" font-size="20" text-anchor="end" transform="rotate(-45 755.6 686.4)">Jul 2022</text>
<text x="902" y="688.4" font-size="20" text-anchor="end" transform="rotate(-45 902 688.4)">Aug 2022</text>
<text x="1044.8" y="689.4" font-size="20" text-anchor="end" transform="rotate(-45 1044.8 689.4)">Sep 2022</text>
<text font-size="31" transform="translate(1104.5 243) rotate(90) scale(0.994 1)">Discharge (m<tspan font-size="22" dy="-14">3</tspan><tspan dy="14"> s</tspan><tspan font-size="22" dy="-14">-1</tspan><tspan dy="14">)</tspan></text>
<line x1="1301.4" y1="673.8" x2="1307.4" y2="673.8" stroke="#262626" stroke-width="1.1" />
<line x1="2041" y1="673.8" x2="2035" y2="673.8" stroke="#262626" stroke-width="1.1" />
<line x1="1301.4" y1="648.8" x2="1304" y2="648.8" stroke="#262626" stroke-width="1.1" />
<line x1="2041" y1="648.8" x2="2038.4" y2="648.8" stroke="#262626" stroke-width="1.1" />
<line x1="1301.4" y1="634.2" x2="1304" y2="634.2" stroke="#262626" stroke-width="1.1" />
<line x1="2041" y1="634.2" x2="2038.4" y2="634.2" stroke="#262626" stroke-width="1.1" />
<line x1="1301.4" y1="623.8" x2="1304" y2="623.8" stroke="#262626" stroke-width="1.1" />
<line x1="2041" y1="623.8" x2="2038.4" y2="623.8" stroke="#262626" stroke-width="1.1" />
<line x1="1301.4" y1="615.8" x2="1304" y2="615.8" stroke="#262626" stroke-width="1.1" />
<line x1="2041" y1="615.8" x2="2038.4" y2="615.8" stroke="#262626" stroke-width="1.1" />
<line x1="1301.4" y1="609.2" x2="1304" y2="609.2" stroke="#262626" stroke-width="1.1" />
<line x1="2041" y1="609.2" x2="2038.4" y2="609.2" stroke="#262626" stroke-width="1.1" />
<line x1="1301.4" y1="603.6" x2="1304" y2="603.6" stroke="#262626" stroke-width="1.1" />
<line x1="2041" y1="603.6" x2="2038.4" y2="603.6" stroke="#262626" stroke-width="1.1" />
<line x1="1301.4" y1="598.8" x2="1304" y2="598.8" stroke="#262626" stroke-width="1.1" />
<line x1="2041" y1="598.8" x2="2038.4" y2="598.8" stroke="#262626" stroke-width="1.1" />
<line x1="1301.4" y1="594.6" x2="1304" y2="594.6" stroke="#262626" stroke-width="1.1" />
<line x1="2041" y1="594.6" x2="2038.4" y2="594.6" stroke="#262626" stroke-width="1.1" />
<line x1="1301.4" y1="590.8" x2="1307.4" y2="590.8" stroke="#262626" stroke-width="1.1" />
<line x1="2041" y1="590.8" x2="2035" y2="590.8" stroke="#262626" stroke-width="1.1" />
<line x1="1301.4" y1="565.8" x2="1304" y2="565.8" stroke="#262626" stroke-width="1.1" />
<line x1="2041" y1="565.8" x2="2038.4" y2="565.8" stroke="#262626" stroke-width="1.1" />
<line x1="1301.4" y1="551.2" x2="1304" y2="551.2" stroke="#262626" stroke-width="1.1" />
<line x1="2041" y1="551.2" x2="2038.4" y2="551.2" stroke="#262626" stroke-width="1.1" />
<line x1="1301.4" y1="540.8" x2="1304" y2="540.8" stroke="#262626" stroke-width="1.1" />
<line x1="2041" y1="540.8" x2="2038.4" y2="540.8" stroke="#262626" stroke-width="1.1" />
<line x1="1301.4" y1="532.8" x2="1304" y2="532.8" stroke="#262626" stroke-width="1.1" />
<line x1="2041" y1="532.8" x2="2038.4" y2="532.8" stroke="#262626" stroke-width="1.1" />
<line x1="1301.4" y1="526.2" x2="1304" y2="526.2" stroke="#262626" stroke-width="1.1" />
<line x1="2041" y1="526.2" x2="2038.4" y2="526.2" stroke="#262626" stroke-width="1.1" />
<line x1="1301.4" y1="520.6" x2="1304" y2="520.6" stroke="#262626" stroke-width="1.1" />
<line x1="2041" y1="520.6" x2="2038.4" y2="520.6" stroke="#262626" stroke-width="1.1" />
<line x1="1301.4" y1="515.8" x2="1304" y2="515.8" stroke="#262626" stroke-width="1.1" />
<line x1="2041" y1="515.8" x2="2038.4" y2="515.8" stroke="#262626" stroke-width="1.1" />
<line x1="1301.4" y1="511.6" x2="1304" y2="511.6" stroke="#262626" stroke-width="1.1" />
<line x1="2041" y1="511.6" x2="2038.4" y2="511.6" stroke="#262626" stroke-width="1.1" />
<line x1="1301.4" y1="507.8" x2="1307.4" y2="507.8" stroke="#262626" stroke-width="1.1" />
<line x1="2041" y1="507.8" x2="2035" y2="507.8" stroke="#262626" stroke-width="1.1" />
<line x1="1301.4" y1="482.8" x2="1304" y2="482.8" stroke="#262626" stroke-width="1.1" />
<line x1="2041" y1="482.8" x2="2038.4" y2="482.8" stroke="#262626" stroke-width="1.1" />
<line x1="1301.4" y1="468.2" x2="1304" y2="468.2" stroke="#262626" stroke-width="1.1" />
<line x1="2041" y1="468.2" x2="2038.4" y2="468.2" stroke="#262626" stroke-width="1.1" />
<line x1="1301.4" y1="457.8" x2="1304" y2="457.8" stroke="#262626" stroke-width="1.1" />
<line x1="2041" y1="457.8" x2="2038.4" y2="457.8" stroke="#262626" stroke-width="1.1" />
<line x1="1301.4" y1="449.8" x2="1304" y2="449.8" stroke="#262626" stroke-width="1.1" />
<line x1="2041" y1="449.8" x2="2038.4" y2="449.8" stroke="#262626" stroke-width="1.1" />
<line x1="1301.4" y1="443.2" x2="1304" y2="443.2" stroke="#262626" stroke-width="1.1" />
<line x1="2041" y1="443.2" x2="2038.4" y2="443.2" stroke="#262626" stroke-width="1.1" />
<line x1="1301.4" y1="437.6" x2="1304" y2="437.6" stroke="#262626" stroke-width="1.1" />
<line x1="2041" y1="437.6" x2="2038.4" y2="437.6" stroke="#262626" stroke-width="1.1" />
<line x1="1301.4" y1="432.8" x2="1304" y2="432.8" stroke="#262626" stroke-width="1.1" />
<line x1="2041" y1="432.8" x2="2038.4" y2="432.8" stroke="#262626" stroke-width="1.1" />
<line x1="1301.4" y1="428.6" x2="1304" y2="428.6" stroke="#262626" stroke-width="1.1" />
<line x1="2041" y1="428.6" x2="2038.4" y2="428.6" stroke="#262626" stroke-width="1.1" />
<line x1="1301.4" y1="424.8" x2="1307.4" y2="424.8" stroke="#262626" stroke-width="1.1" />
<line x1="2041" y1="424.8" x2="2035" y2="424.8" stroke="#262626" stroke-width="1.1" />
<line x1="1301.4" y1="399.8" x2="1304" y2="399.8" stroke="#262626" stroke-width="1.1" />
<line x1="2041" y1="399.8" x2="2038.4" y2="399.8" stroke="#262626" stroke-width="1.1" />
<line x1="1301.4" y1="385.2" x2="1304" y2="385.2" stroke="#262626" stroke-width="1.1" />
<line x1="2041" y1="385.2" x2="2038.4" y2="385.2" stroke="#262626" stroke-width="1.1" />
<line x1="1301.4" y1="374.8" x2="1304" y2="374.8" stroke="#262626" stroke-width="1.1" />
<line x1="2041" y1="374.8" x2="2038.4" y2="374.8" stroke="#262626" stroke-width="1.1" />
<line x1="1301.4" y1="366.7" x2="1304" y2="366.7" stroke="#262626" stroke-width="1.1" />
<line x1="2041" y1="366.7" x2="2038.4" y2="366.7" stroke="#262626" stroke-width="1.1" />
<line x1="1301.4" y1="360.2" x2="1304" y2="360.2" stroke="#262626" stroke-width="1.1" />
<line x1="2041" y1="360.2" x2="2038.4" y2="360.2" stroke="#262626" stroke-width="1.1" />
<line x1="1301.4" y1="354.6" x2="1304" y2="354.6" stroke="#262626" stroke-width="1.1" />
<line x1="2041" y1="354.6" x2="2038.4" y2="354.6" stroke="#262626" stroke-width="1.1" />
<line x1="1301.4" y1="349.8" x2="1304" y2="349.8" stroke="#262626" stroke-width="1.1" />
<line x1="2041" y1="349.8" x2="2038.4" y2="349.8" stroke="#262626" stroke-width="1.1" />
<line x1="1301.4" y1="345.5" x2="1304" y2="345.5" stroke="#262626" stroke-width="1.1" />
<line x1="2041" y1="345.5" x2="2038.4" y2="345.5" stroke="#262626" stroke-width="1.1" />
<line x1="1301.4" y1="341.8" x2="1307.4" y2="341.8" stroke="#262626" stroke-width="1.1" />
<line x1="2041" y1="341.8" x2="2035" y2="341.8" stroke="#262626" stroke-width="1.1" />
<line x1="1301.4" y1="316.8" x2="1304" y2="316.8" stroke="#262626" stroke-width="1.1" />
<line x1="2041" y1="316.8" x2="2038.4" y2="316.8" stroke="#262626" stroke-width="1.1" />
<line x1="1301.4" y1="302.1" x2="1304" y2="302.1" stroke="#262626" stroke-width="1.1" />
<line x1="2041" y1="302.1" x2="2038.4" y2="302.1" stroke="#262626" stroke-width="1.1" />
<line x1="1301.4" y1="291.8" x2="1304" y2="291.8" stroke="#262626" stroke-width="1.1" />
<line x1="2041" y1="291.8" x2="2038.4" y2="291.8" stroke="#262626" stroke-width="1.1" />
<line x1="1301.4" y1="283.7" x2="1304" y2="283.7" stroke="#262626" stroke-width="1.1" />
<line x1="2041" y1="283.7" x2="2038.4" y2="283.7" stroke="#262626" stroke-width="1.1" />
<line x1="1301.4" y1="277.2" x2="1304" y2="277.2" stroke="#262626" stroke-width="1.1" />
<line x1="2041" y1="277.2" x2="2038.4" y2="277.2" stroke="#262626" stroke-width="1.1" />
<line x1="1301.4" y1="271.6" x2="1304" y2="271.6" stroke="#262626" stroke-width="1.1" />
<line x1="2041" y1="271.6" x2="2038.4" y2="271.6" stroke="#262626" stroke-width="1.1" />
<line x1="1301.4" y1="266.8" x2="1304" y2="266.8" stroke="#262626" stroke-width="1.1" />
<line x1="2041" y1="266.8" x2="2038.4" y2="266.8" stroke="#262626" stroke-width="1.1" />
<line x1="1301.4" y1="262.5" x2="1304" y2="262.5" stroke="#262626" stroke-width="1.1" />
<line x1="2041" y1="262.5" x2="2038.4" y2="262.5" stroke="#262626" stroke-width="1.1" />
<line x1="1301.4" y1="258.7" x2="1307.4" y2="258.7" stroke="#262626" stroke-width="1.1" />
<line x1="2041" y1="258.7" x2="2035" y2="258.7" stroke="#262626" stroke-width="1.1" />
<line x1="1301.4" y1="233.7" x2="1304" y2="233.7" stroke="#262626" stroke-width="1.1" />
<line x1="2041" y1="233.7" x2="2038.4" y2="233.7" stroke="#262626" stroke-width="1.1" />
<line x1="1301.4" y1="219.1" x2="1304" y2="219.1" stroke="#262626" stroke-width="1.1" />
<line x1="2041" y1="219.1" x2="2038.4" y2="219.1" stroke="#262626" stroke-width="1.1" />
<line x1="1301.4" y1="208.8" x2="1304" y2="208.8" stroke="#262626" stroke-width="1.1" />
<line x1="2041" y1="208.8" x2="2038.4" y2="208.8" stroke="#262626" stroke-width="1.1" />
<line x1="1301.4" y1="200.7" x2="1304" y2="200.7" stroke="#262626" stroke-width="1.1" />
<line x1="2041" y1="200.7" x2="2038.4" y2="200.7" stroke="#262626" stroke-width="1.1" />
<line x1="1301.4" y1="194.1" x2="1304" y2="194.1" stroke="#262626" stroke-width="1.1" />
<line x1="2041" y1="194.1" x2="2038.4" y2="194.1" stroke="#262626" stroke-width="1.1" />
<line x1="1301.4" y1="188.6" x2="1304" y2="188.6" stroke="#262626" stroke-width="1.1" />
<line x1="2041" y1="188.6" x2="2038.4" y2="188.6" stroke="#262626" stroke-width="1.1" />
<line x1="1301.4" y1="183.8" x2="1304" y2="183.8" stroke="#262626" stroke-width="1.1" />
<line x1="2041" y1="183.8" x2="2038.4" y2="183.8" stroke="#262626" stroke-width="1.1" />
<line x1="1301.4" y1="179.5" x2="1304" y2="179.5" stroke="#262626" stroke-width="1.1" />
<line x1="2041" y1="179.5" x2="2038.4" y2="179.5" stroke="#262626" stroke-width="1.1" />
<line x1="1301.4" y1="175.7" x2="1307.4" y2="175.7" stroke="#262626" stroke-width="1.1" />
<line x1="2041" y1="175.7" x2="2035" y2="175.7" stroke="#262626" stroke-width="1.1" />
<line x1="1301.4" y1="150.7" x2="1304" y2="150.7" stroke="#262626" stroke-width="1.1" />
<line x1="2041" y1="150.7" x2="2038.4" y2="150.7" stroke="#262626" stroke-width="1.1" />
<line x1="1301.4" y1="136.1" x2="1304" y2="136.1" stroke="#262626" stroke-width="1.1" />
<line x1="2041" y1="136.1" x2="2038.4" y2="136.1" stroke="#262626" stroke-width="1.1" />
<line x1="1301.4" y1="125.7" x2="1304" y2="125.7" stroke="#262626" stroke-width="1.1" />
<line x1="2041" y1="125.7" x2="2038.4" y2="125.7" stroke="#262626" stroke-width="1.1" />
<line x1="1301.4" y1="117.7" x2="1304" y2="117.7" stroke="#262626" stroke-width="1.1" />
<line x1="2041" y1="117.7" x2="2038.4" y2="117.7" stroke="#262626" stroke-width="1.1" />
<line x1="1301.4" y1="111.1" x2="1304" y2="111.1" stroke="#262626" stroke-width="1.1" />
<line x1="2041" y1="111.1" x2="2038.4" y2="111.1" stroke="#262626" stroke-width="1.1" />
<line x1="1301.4" y1="105.6" x2="1304" y2="105.6" stroke="#262626" stroke-width="1.1" />
<line x1="2041" y1="105.6" x2="2038.4" y2="105.6" stroke="#262626" stroke-width="1.1" />
<line x1="1301.4" y1="100.8" x2="1304" y2="100.8" stroke="#262626" stroke-width="1.1" />
<line x1="2041" y1="100.8" x2="2038.4" y2="100.8" stroke="#262626" stroke-width="1.1" />
<line x1="1301.4" y1="96.5" x2="1304" y2="96.5" stroke="#262626" stroke-width="1.1" />
<line x1="2041" y1="96.5" x2="2038.4" y2="96.5" stroke="#262626" stroke-width="1.1" />
<line x1="1301.4" y1="92.7" x2="1307.4" y2="92.7" stroke="#262626" stroke-width="1.1" />
<line x1="2041" y1="92.7" x2="2035" y2="92.7" stroke="#262626" stroke-width="1.1" />
<line x1="1301.4" y1="67.7" x2="1304" y2="67.7" stroke="#262626" stroke-width="1.1" />
<line x1="2041" y1="67.7" x2="2038.4" y2="67.7" stroke="#262626" stroke-width="1.1" />
<line x1="1301.4" y1="53.1" x2="1304" y2="53.1" stroke="#262626" stroke-width="1.1" />
<line x1="2041" y1="53.1" x2="2038.4" y2="53.1" stroke="#262626" stroke-width="1.1" />
<line x1="1301.4" y1="42.7" x2="1304" y2="42.7" stroke="#262626" stroke-width="1.1" />
<line x1="2041" y1="42.7" x2="2038.4" y2="42.7" stroke="#262626" stroke-width="1.1" />
<line x1="1301.4" y1="34.7" x2="1304" y2="34.7" stroke="#262626" stroke-width="1.1" />
<line x1="2041" y1="34.7" x2="2038.4" y2="34.7" stroke="#262626" stroke-width="1.1" />
<line x1="1301.4" y1="28.1" x2="1304" y2="28.1" stroke="#262626" stroke-width="1.1" />
<line x1="2041" y1="28.1" x2="2038.4" y2="28.1" stroke="#262626" stroke-width="1.1" />
<line x1="1301.4" y1="22.6" x2="1304" y2="22.6" stroke="#262626" stroke-width="1.1" />
<line x1="2041" y1="22.6" x2="2038.4" y2="22.6" stroke="#262626" stroke-width="1.1" />
<line x1="1301.4" y1="17.7" x2="1304" y2="17.7" stroke="#262626" stroke-width="1.1" />
<line x1="2041" y1="17.7" x2="2038.4" y2="17.7" stroke="#262626" stroke-width="1.1" />
<line x1="1301.4" y1="13.5" x2="1304" y2="13.5" stroke="#262626" stroke-width="1.1" />
<line x1="2041" y1="13.5" x2="2038.4" y2="13.5" stroke="#262626" stroke-width="1.1" />
<line x1="1301.4" y1="9.7" x2="1307.4" y2="9.7" stroke="#262626" stroke-width="1.1" />
<line x1="2041" y1="9.7" x2="2035" y2="9.7" stroke="#262626" stroke-width="1.1" />
<line x1="1486" y1="673.8" x2="1486" y2="667.3" stroke="#262626" stroke-width="1.2" />
<line x1="1486" y1="9.7" x2="1486" y2="16.2" stroke="#262626" stroke-width="1.2" />
<line x1="1856.5" y1="673.8" x2="1856.5" y2="667.3" stroke="#262626" stroke-width="1.2" />
<line x1="1856.5" y1="9.7" x2="1856.5" y2="16.2" stroke="#262626" stroke-width="1.2" />
<rect x="1301.4" y="9.7" width="739.6" height="664.1" fill="none" stroke="#262626" stroke-width="1.6"/>
<rect x="1412" y="317" width="148.5" height="115.4" fill="#c8ecf6" stroke="#1a1a1a" stroke-width="2.6"/>
<line x1="1413.5" y1="369.4" x2="1559" y2="369.4" stroke="#2a5a72" stroke-width="2.6" />
<line x1="1486" y1="298.8" x2="1486" y2="317" stroke="#333" stroke-width="1.3" stroke-dasharray="9,6"/>
<line x1="1450" y1="298.8" x2="1522" y2="298.8" stroke="#555" stroke-width="1.6" />
<line x1="1486" y1="432.4" x2="1486" y2="506.8" stroke="#333" stroke-width="1.3" stroke-dasharray="9,6"/>
<line x1="1450" y1="506.8" x2="1522" y2="506.8" stroke="#555" stroke-width="1.6" />
<line x1="1479.2" y1="201.8" x2="1492.8" y2="201.8" stroke="#6fb3b0" stroke-width="1.1" />
<line x1="1486" y1="194.3" x2="1486" y2="209.3" stroke="#6fb3b0" stroke-width="1.1" />
<line x1="1479.2" y1="255.6" x2="1492.8" y2="255.6" stroke="#6fb3b0" stroke-width="1.1" />
<line x1="1486" y1="248.1" x2="1486" y2="263.1" stroke="#6fb3b0" stroke-width="1.1" />
<rect x="1783" y="215.2" width="148" height="93.2" fill="#f0b497" stroke="#1a1a1a" stroke-width="2.6"/>
<line x1="1784.5" y1="251.3" x2="1929.5" y2="251.3" stroke="#9a2a10" stroke-width="2.6" />
<line x1="1856.5" y1="186.4" x2="1856.5" y2="215.2" stroke="#333" stroke-width="1.3" stroke-dasharray="9,6"/>
<line x1="1819.5" y1="186.4" x2="1893.5" y2="186.4" stroke="#555" stroke-width="1.6" />
<line x1="1856.5" y1="308.4" x2="1856.5" y2="444.4" stroke="#333" stroke-width="1.3" stroke-dasharray="9,6"/>
<line x1="1819.5" y1="444.4" x2="1893.5" y2="444.4" stroke="#555" stroke-width="1.6" />
<line x1="1849.7" y1="34.6" x2="1863.3" y2="34.6" stroke="#a03030" stroke-width="1.1" />
<line x1="1856.5" y1="27.1" x2="1856.5" y2="42.1" stroke="#a03030" stroke-width="1.1" />
<text x="1293" y="681.9" font-size="19" text-anchor="end">10<tspan font-size="16" dx="1" dy="-8.6">-1</tspan></text>
<text x="1293" y="607.6" font-size="19" text-anchor="end">10<tspan font-size="16" dx="1" dy="-8.6">0</tspan></text>
<text x="1293" y="528.1" font-size="19" text-anchor="end">10<tspan font-size="16" dx="1" dy="-8.6">1</tspan></text>
<text x="1293" y="445.3" font-size="19" text-anchor="end">10<tspan font-size="16" dx="1" dy="-8.6">2</tspan></text>
<text x="1293" y="363.1" font-size="19" text-anchor="end">10<tspan font-size="16" dx="1" dy="-8.6">3</tspan></text>
<text x="1293" y="279.9" font-size="19" text-anchor="end">10<tspan font-size="16" dx="1" dy="-8.6">4</tspan></text>
<text x="1293" y="199.6" font-size="19" text-anchor="end">10<tspan font-size="16" dx="1" dy="-8.6">5</tspan></text>
<text x="1293" y="117.1" font-size="19" text-anchor="end">10<tspan font-size="16" dx="1" dy="-8.6">6</tspan></text>
<text x="1293" y="33.2" font-size="19" text-anchor="end">10<tspan font-size="16" dx="1" dy="-8.6">7</tspan></text>
<text x="1486.9" y="705.5" font-size="27" text-anchor="middle" font-weight="normal" fill="#000" textLength="90" lengthAdjust="spacingAndGlyphs">Pre-fire</text>
<text x="1853.4" y="705.5" font-size="27" text-anchor="middle" font-weight="normal" fill="#000" textLength="102" lengthAdjust="spacingAndGlyphs">Post-fire</text>
<text font-size="31" transform="translate(1225 615.7) rotate(-90) scale(1.012 1)">Suspended sediment discharge (kg day<tspan font-size="22" dy="-15">-1</tspan><tspan dy="15">)</tspan></text>
<line x1="109.6" y1="803.2" x2="109.6" y2="1448.8" stroke="#ececec" stroke-width="1" />
<line x1="219.7" y1="803.2" x2="219.7" y2="1448.8" stroke="#ececec" stroke-width="1" />
<line x1="329.7" y1="803.2" x2="329.7" y2="1448.8" stroke="#ececec" stroke-width="1" />
<line x1="438.8" y1="803.2" x2="438.8" y2="1448.8" stroke="#ececec" stroke-width="1" />
<line x1="548.4" y1="803.2" x2="548.4" y2="1448.8" stroke="#ececec" stroke-width="1" />
<line x1="96.5" y1="1287.4" x2="561.7" y2="1287.4" stroke="#e2e2e2" stroke-width="1" stroke-dasharray="8,4"/>
<line x1="96.5" y1="1126" x2="561.7" y2="1126" stroke="#e2e2e2" stroke-width="1" stroke-dasharray="8,4"/>
<line x1="96.5" y1="964.6" x2="561.7" y2="964.6" stroke="#e2e2e2" stroke-width="1" stroke-dasharray="8,4"/>
<line x1="96.5" y1="1448.8" x2="102.5" y2="1448.8" stroke="#262626" stroke-width="1.1" />
<line x1="561.7" y1="1448.8" x2="555.7" y2="1448.8" stroke="#262626" stroke-width="1.1" />
<line x1="96.5" y1="1400.2" x2="99.1" y2="1400.2" stroke="#262626" stroke-width="1.1" />
<line x1="561.7" y1="1400.2" x2="559.1" y2="1400.2" stroke="#262626" stroke-width="1.1" />
<line x1="96.5" y1="1371.8" x2="99.1" y2="1371.8" stroke="#262626" stroke-width="1.1" />
<line x1="561.7" y1="1371.8" x2="559.1" y2="1371.8" stroke="#262626" stroke-width="1.1" />
<line x1="96.5" y1="1351.6" x2="99.1" y2="1351.6" stroke="#262626" stroke-width="1.1" />
<line x1="561.7" y1="1351.6" x2="559.1" y2="1351.6" stroke="#262626" stroke-width="1.1" />
<line x1="96.5" y1="1336" x2="99.1" y2="1336" stroke="#262626" stroke-width="1.1" />
<line x1="561.7" y1="1336" x2="559.1" y2="1336" stroke="#262626" stroke-width="1.1" />
<line x1="96.5" y1="1323.2" x2="99.1" y2="1323.2" stroke="#262626" stroke-width="1.1" />
<line x1="561.7" y1="1323.2" x2="559.1" y2="1323.2" stroke="#262626" stroke-width="1.1" />
<line x1="96.5" y1="1312.4" x2="99.1" y2="1312.4" stroke="#262626" stroke-width="1.1" />
<line x1="561.7" y1="1312.4" x2="559.1" y2="1312.4" stroke="#262626" stroke-width="1.1" />
<line x1="96.5" y1="1303" x2="99.1" y2="1303" stroke="#262626" stroke-width="1.1" />
<line x1="561.7" y1="1303" x2="559.1" y2="1303" stroke="#262626" stroke-width="1.1" />
<line x1="96.5" y1="1294.8" x2="99.1" y2="1294.8" stroke="#262626" stroke-width="1.1" />
<line x1="561.7" y1="1294.8" x2="559.1" y2="1294.8" stroke="#262626" stroke-width="1.1" />
<line x1="96.5" y1="1287.4" x2="102.5" y2="1287.4" stroke="#262626" stroke-width="1.1" />
<line x1="561.7" y1="1287.4" x2="555.7" y2="1287.4" stroke="#262626" stroke-width="1.1" />
<line x1="96.5" y1="1238.8" x2="99.1" y2="1238.8" stroke="#262626" stroke-width="1.1" />
<line x1="561.7" y1="1238.8" x2="559.1" y2="1238.8" stroke="#262626" stroke-width="1.1" />
<line x1="96.5" y1="1210.4" x2="99.1" y2="1210.4" stroke="#262626" stroke-width="1.1" />
<line x1="561.7" y1="1210.4" x2="559.1" y2="1210.4" stroke="#262626" stroke-width="1.1" />
<line x1="96.5" y1="1190.2" x2="99.1" y2="1190.2" stroke="#262626" stroke-width="1.1" />
<line x1="561.7" y1="1190.2" x2="559.1" y2="1190.2" stroke="#262626" stroke-width="1.1" />
<line x1="96.5" y1="1174.6" x2="99.1" y2="1174.6" stroke="#262626" stroke-width="1.1" />
<line x1="561.7" y1="1174.6" x2="559.1" y2="1174.6" stroke="#262626" stroke-width="1.1" />
<line x1="96.5" y1="1161.8" x2="99.1" y2="1161.8" stroke="#262626" stroke-width="1.1" />
<line x1="561.7" y1="1161.8" x2="559.1" y2="1161.8" stroke="#262626" stroke-width="1.1" />
<line x1="96.5" y1="1151" x2="99.1" y2="1151" stroke="#262626" stroke-width="1.1" />
<line x1="561.7" y1="1151" x2="559.1" y2="1151" stroke="#262626" stroke-width="1.1" />
<line x1="96.5" y1="1141.6" x2="99.1" y2="1141.6" stroke="#262626" stroke-width="1.1" />
<line x1="561.7" y1="1141.6" x2="559.1" y2="1141.6" stroke="#262626" stroke-width="1.1" />
<line x1="96.5" y1="1133.4" x2="99.1" y2="1133.4" stroke="#262626" stroke-width="1.1" />
<line x1="561.7" y1="1133.4" x2="559.1" y2="1133.4" stroke="#262626" stroke-width="1.1" />
<line x1="96.5" y1="1126" x2="102.5" y2="1126" stroke="#262626" stroke-width="1.1" />
<line x1="561.7" y1="1126" x2="555.7" y2="1126" stroke="#262626" stroke-width="1.1" />
<line x1="96.5" y1="1077.4" x2="99.1" y2="1077.4" stroke="#262626" stroke-width="1.1" />
<line x1="561.7" y1="1077.4" x2="559.1" y2="1077.4" stroke="#262626" stroke-width="1.1" />
<line x1="96.5" y1="1049" x2="99.1" y2="1049" stroke="#262626" stroke-width="1.1" />
<line x1="561.7" y1="1049" x2="559.1" y2="1049" stroke="#262626" stroke-width="1.1" />
<line x1="96.5" y1="1028.8" x2="99.1" y2="1028.8" stroke="#262626" stroke-width="1.1" />
<line x1="561.7" y1="1028.8" x2="559.1" y2="1028.8" stroke="#262626" stroke-width="1.1" />
<line x1="96.5" y1="1013.2" x2="99.1" y2="1013.2" stroke="#262626" stroke-width="1.1" />
<line x1="561.7" y1="1013.2" x2="559.1" y2="1013.2" stroke="#262626" stroke-width="1.1" />
<line x1="96.5" y1="1000.4" x2="99.1" y2="1000.4" stroke="#262626" stroke-width="1.1" />
<line x1="561.7" y1="1000.4" x2="559.1" y2="1000.4" stroke="#262626" stroke-width="1.1" />
<line x1="96.5" y1="989.6" x2="99.1" y2="989.6" stroke="#262626" stroke-width="1.1" />
<line x1="561.7" y1="989.6" x2="559.1" y2="989.6" stroke="#262626" stroke-width="1.1" />
<line x1="96.5" y1="980.2" x2="99.1" y2="980.2" stroke="#262626" stroke-width="1.1" />
<line x1="561.7" y1="980.2" x2="559.1" y2="980.2" stroke="#262626" stroke-width="1.1" />
<line x1="96.5" y1="972" x2="99.1" y2="972" stroke="#262626" stroke-width="1.1" />
<line x1="561.7" y1="972" x2="559.1" y2="972" stroke="#262626" stroke-width="1.1" />
<line x1="96.5" y1="964.6" x2="102.5" y2="964.6" stroke="#262626" stroke-width="1.1" />
<line x1="561.7" y1="964.6" x2="555.7" y2="964.6" stroke="#262626" stroke-width="1.1" />
<line x1="96.5" y1="916" x2="99.1" y2="916" stroke="#262626" stroke-width="1.1" />
<line x1="561.7" y1="916" x2="559.1" y2="916" stroke="#262626" stroke-width="1.1" />
<line x1="96.5" y1="887.6" x2="99.1" y2="887.6" stroke="#262626" stroke-width="1.1" />
<line x1="561.7" y1="887.6" x2="559.1" y2="887.6" stroke="#262626" stroke-width="1.1" />
<line x1="96.5" y1="867.4" x2="99.1" y2="867.4" stroke="#262626" stroke-width="1.1" />
<line x1="561.7" y1="867.4" x2="559.1" y2="867.4" stroke="#262626" stroke-width="1.1" />
<line x1="96.5" y1="851.8" x2="99.1" y2="851.8" stroke="#262626" stroke-width="1.1" />
<line x1="561.7" y1="851.8" x2="559.1" y2="851.8" stroke="#262626" stroke-width="1.1" />
<line x1="96.5" y1="839" x2="99.1" y2="839" stroke="#262626" stroke-width="1.1" />
<line x1="561.7" y1="839" x2="559.1" y2="839" stroke="#262626" stroke-width="1.1" />
<line x1="96.5" y1="828.2" x2="99.1" y2="828.2" stroke="#262626" stroke-width="1.1" />
<line x1="561.7" y1="828.2" x2="559.1" y2="828.2" stroke="#262626" stroke-width="1.1" />
<line x1="96.5" y1="818.8" x2="99.1" y2="818.8" stroke="#262626" stroke-width="1.1" />
<line x1="561.7" y1="818.8" x2="559.1" y2="818.8" stroke="#262626" stroke-width="1.1" />
<line x1="96.5" y1="810.6" x2="99.1" y2="810.6" stroke="#262626" stroke-width="1.1" />
<line x1="561.7" y1="810.6" x2="559.1" y2="810.6" stroke="#262626" stroke-width="1.1" />
<line x1="96.5" y1="803.2" x2="102.5" y2="803.2" stroke="#262626" stroke-width="1.1" />
<line x1="561.7" y1="803.2" x2="555.7" y2="803.2" stroke="#262626" stroke-width="1.1" />
<line x1="561.7" y1="1368.1" x2="555.2" y2="1368.1" stroke="#262626" stroke-width="1.1" />
<line x1="96.5" y1="1368.1" x2="103" y2="1368.1" stroke="#262626" stroke-width="1.1" />
<line x1="561.7" y1="1287.4" x2="555.2" y2="1287.4" stroke="#262626" stroke-width="1.1" />
<line x1="96.5" y1="1287.4" x2="103" y2="1287.4" stroke="#262626" stroke-width="1.1" />
<line x1="561.7" y1="1206.7" x2="555.2" y2="1206.7" stroke="#262626" stroke-width="1.1" />
<line x1="96.5" y1="1206.7" x2="103" y2="1206.7" stroke="#262626" stroke-width="1.1" />
<line x1="561.7" y1="1126" x2="555.2" y2="1126" stroke="#262626" stroke-width="1.1" />
<line x1="96.5" y1="1126" x2="103" y2="1126" stroke="#262626" stroke-width="1.1" />
<line x1="561.7" y1="1045.3" x2="555.2" y2="1045.3" stroke="#262626" stroke-width="1.1" />
<line x1="96.5" y1="1045.3" x2="103" y2="1045.3" stroke="#262626" stroke-width="1.1" />
<line x1="561.7" y1="964.6" x2="555.2" y2="964.6" stroke="#262626" stroke-width="1.1" />
<line x1="96.5" y1="964.6" x2="103" y2="964.6" stroke="#262626" stroke-width="1.1" />
<line x1="561.7" y1="883.9" x2="555.2" y2="883.9" stroke="#262626" stroke-width="1.1" />
<line x1="96.5" y1="883.9" x2="103" y2="883.9" stroke="#262626" stroke-width="1.1" />
<line x1="109.6" y1="1448.8" x2="109.6" y2="1442.3" stroke="#262626" stroke-width="1.2" />
<line x1="109.6" y1="803.2" x2="109.6" y2="809.7" stroke="#262626" stroke-width="1.2" />
<line x1="219.7" y1="1448.8" x2="219.7" y2="1442.3" stroke="#262626" stroke-width="1.2" />
<line x1="219.7" y1="803.2" x2="219.7" y2="809.7" stroke="#262626" stroke-width="1.2" />
<line x1="329.7" y1="1448.8" x2="329.7" y2="1442.3" stroke="#262626" stroke-width="1.2" />
<line x1="329.7" y1="803.2" x2="329.7" y2="809.7" stroke="#262626" stroke-width="1.2" />
<line x1="438.8" y1="1448.8" x2="438.8" y2="1442.3" stroke="#262626" stroke-width="1.2" />
<line x1="438.8" y1="803.2" x2="438.8" y2="809.7" stroke="#262626" stroke-width="1.2" />
<line x1="548.4" y1="1448.8" x2="548.4" y2="1442.3" stroke="#262626" stroke-width="1.2" />
<line x1="548.4" y1="803.2" x2="548.4" y2="809.7" stroke="#262626" stroke-width="1.2" />
<rect x="96.5" y="803.2" width="465.2" height="645.6" fill="none" stroke="#262626" stroke-width="1.6"/>
<circle cx="184.6" cy="1011.2" r="5.5" fill="#8acce6"/>
<circle cx="149.4" cy="1098" r="5.5" fill="#8acce6"/>
<circle cx="117.4" cy="1190.3" r="5.5" fill="#8acce6"/>
<circle cx="178.3" cy="1190.3" r="5.5" fill="#8acce6"/>
<circle cx="109.7" cy="1210.7" r="5.5" fill="#8acce6"/>
<circle cx="513.3" cy="965.2" r="5.5" fill="#8acce6"/>
<circle cx="405.9" cy="1238.6" r="5.5" fill="#8acce6"/>
<circle cx="451.6" cy="1238.6" r="5.5" fill="#8acce6"/>
<circle cx="430.4" cy="1287.1" r="5.5" fill="#8acce6"/>
<circle cx="548.9" cy="1287.1" r="5.5" fill="#8acce6"/>
<polyline points="96.5,1394.8 97.5,1399.7 98.9,1405.1 100.9,1397.2 102.4,1402.7 105.4,1407.1 107.3,1398.7 109.3,1388.8 110.6,1344.4 111.3,1353.3 113.3,1349.4 114.7,1364.2 116.7,1385.9 119.2,1395.8 122.1,1403.7 125.1,1411.5 126.6,1409.6 130,1420.9 132,1409.1 133.5,1417 135.3,1395.3 137,1404.6 140.4,1433.8 141.9,1432.3 143.9,1404.6 144.9,1413.5 146.3,1372.1 147.3,1385.9 149.3,1374.5 151.8,1405.1 153.2,1392.8 155.2,1405.6 157.7,1403.2 161.1,1417 163.6,1402.7 165.3,1411.5 166.6,1381 168.5,1398.7 172.5,1419.4 174.5,1392.8 176.9,1407.6 178.4,1359.2 179.9,1330.6 180.9,1357.3 181.9,1351.3 183.5,1200 184.6,985.1 186,1250 188.2,1374 190.3,1390.8 192.2,1377 194.2,1397 195.2,1300 196,861.4 197.5,1150 198.4,1242.4 199.5,1150 200.7,979.2 202,1150 203.7,1257 207.2,1330 210,1355.3 212.4,1385.7 213.5,1369.1 214.4,1329.6 215.9,1219 217.9,1300 219.9,1349.4 221.8,1361.2 222.8,1352.3 224.8,1379 227.3,1398.7 229.7,1408.6 232.7,1412.5 234.2,1406.1 236.7,1413.5 241.1,1423.9 246,1424.4 249,1427.3 254.4,1429.8 260.3,1430.3 264.3,1431.8 269.2,1430.3 271.7,1433.3 273.7,1432.3 275.6,1427.8 278.1,1428.8 280.1,1432.3 281.6,1425.4 283,1428.3 284.5,1425.4 286,1431.3 290,1431.3 294.9,1426.9 296.9,1427.3 298.8,1429.3 300.8,1432.3 303.3,1430.3 306.2,1429.3 308,1415.5 308.7,1426.4 310.2,1434.3 312.7,1428.3 314.6,1427.3 316.6,1415.5 317.6,1418.5 319.6,1411.5 322.5,1420.9 325,1413.5 327,1401.7 329.4,1397.2 331.4,1401.7 332.9,1414.5 334.9,1436.2 336.4,1436.7 338,1427.3 339.3,1436.7 340.8,1439.2 344.2,1442.2 346.2,1440.2 348.2,1432.3 350.5,1427.3 354.6,1429.8 355.8,1434.3 357.6,1432.3 359.1,1433.8 362,1413.5 363.5,1418.5 365.5,1419.9 368.4,1430.8 370.4,1408.6 372.4,1379 374.9,1369.6 376.3,1385.9 377.3,1395.3 379.3,1397.2 381.3,1395.8 384.2,1401.7 387.4,1407.6 389.2,1402.7 393.1,1405.6 396.1,1408.1 398.5,1399.7 401.5,1407.6 404.8,1412.5 406.9,1404.6 410.9,1401.2 412.4,1403.2 416.8,1415.5 420.3,1423.9 424.2,1428.8 426.2,1411.5 427.7,1420.4 430.6,1424.4 433.6,1429.3 435.1,1437.2 439,1440.2 443.9,1442.6 448.4,1437.2 450.4,1439.7 452.3,1436.7 455.3,1439.2 457.3,1434.7 459.7,1440.2 463.7,1442.6 467.6,1444.6 470.6,1441.7 473.6,1444.1 479.5,1445.1 482,1440.2 483.9,1443.1 486.4,1444.1 488.4,1430.3 489.9,1418.5 491.3,1413.5 492.3,1330.6 493.8,1369.1 495.8,1412.5 497.3,1359.2 498.5,1230 499.5,1330 500.2,1379 503.2,1410.6 505.6,1412 507.6,1419.4 510.1,1351.3 511.6,1369.1 513,1391.8 513.6,1317.3 515,1408.6 518,1428.3 521.4,1433.3 524.9,1430.8 528.4,1436.7 531.8,1434.7 534.8,1437.7 536.7,1428.3 538.7,1435.2 540.7,1437.2 541.7,1359.2 542.5,1308.2 544.1,1398.7 546.6,1422.4 549.6,1427.3 553.5,1430.8 555,1418.5 557,1333.6 558.5,1388.8 561.4,1408.6" fill="none" stroke="#111" stroke-width="0.9" stroke-linejoin="round"/>
<line x1="96.5" y1="1199.5" x2="561.7" y2="1199.5" stroke="#000" stroke-width="3.4" stroke-dasharray="11.5,9.25"/>
<line x1="516" y1="1196.5" x2="516" y2="1003.1" stroke="#000" stroke-width="4.6" />
<path d="M516,977.2 L530.3,1010.1 L516,1004.1 L501.7,1010.1 Z" fill="#000"/>
<text x="455.2" y="1120.6" font-size="26" text-anchor="start" font-weight="bold" fill="#000" >29x</text>
<text x="89" y="1454.4" font-size="18" text-anchor="end">10<tspan font-size="15" dx="1" dy="-8.1">-1</tspan></text>
<text x="89" y="1306.5" font-size="18" text-anchor="end">10<tspan font-size="15" dx="1" dy="-8.1">0</tspan></text>
<text x="89" y="1143.1" font-size="18" text-anchor="end">10<tspan font-size="15" dx="1" dy="-8.1">1</tspan></text>
<text x="89" y="981.4" font-size="18" text-anchor="end">10<tspan font-size="15" dx="1" dy="-8.1">2</tspan></text>
<text x="89" y="821.4" font-size="18" text-anchor="end">10<tspan font-size="15" dx="1" dy="-8.1">3</tspan></text>
<text x="119.6" y="1474.8" font-size="20" text-anchor="end" transform="rotate(-45 119.6 1474.8)">May 1988</text>
<text x="222.7" y="1474.8" font-size="20" text-anchor="end" transform="rotate(-45 222.7 1474.8)">Sep 1988</text>
<text x="332.7" y="1472.8" font-size="20" text-anchor="end" transform="rotate(-45 332.7 1472.8)">Jan 1989</text>
<text x="441.8" y="1473.8" font-size="20" text-anchor="end" transform="rotate(-45 441.8 1473.8)">May 1989</text>
<text x="551.4" y="1472.8" font-size="20" text-anchor="end" transform="rotate(-45 551.4 1472.8)">Sep 1989</text>
<text font-size="31" transform="translate(40 1428.3) rotate(-90) scale(1.02 1)">Turbidity (JTU pre-fire and NTRU post-fire)</text>
<line x1="96.5" y1="804.7" x2="561.7" y2="804.7" stroke="#333" stroke-width="1.2" stroke-dasharray="5,9" stroke-dashoffset="-8.6"/>
<line x1="604.9" y1="803.2" x2="604.9" y2="1448.8" stroke="#ececec" stroke-width="1" />
<line x1="713" y1="803.2" x2="713" y2="1448.8" stroke="#ececec" stroke-width="1" />
<line x1="821.6" y1="803.2" x2="821.6" y2="1448.8" stroke="#ececec" stroke-width="1" />
<line x1="930.2" y1="803.2" x2="930.2" y2="1448.8" stroke="#ececec" stroke-width="1" />
<line x1="1037.8" y1="803.2" x2="1037.8" y2="1448.8" stroke="#ececec" stroke-width="1" />
<line x1="583.7" y1="1448.8" x2="589.7" y2="1448.8" stroke="#262626" stroke-width="1.1" />
<line x1="1058.5" y1="1448.8" x2="1052.5" y2="1448.8" stroke="#262626" stroke-width="1.1" />
<line x1="583.7" y1="1400.2" x2="586.3" y2="1400.2" stroke="#262626" stroke-width="1.1" />
<line x1="1058.5" y1="1400.2" x2="1055.9" y2="1400.2" stroke="#262626" stroke-width="1.1" />
<line x1="583.7" y1="1371.8" x2="586.3" y2="1371.8" stroke="#262626" stroke-width="1.1" />
<line x1="1058.5" y1="1371.8" x2="1055.9" y2="1371.8" stroke="#262626" stroke-width="1.1" />
<line x1="583.7" y1="1351.6" x2="586.3" y2="1351.6" stroke="#262626" stroke-width="1.1" />
<line x1="1058.5" y1="1351.6" x2="1055.9" y2="1351.6" stroke="#262626" stroke-width="1.1" />
<line x1="583.7" y1="1336" x2="586.3" y2="1336" stroke="#262626" stroke-width="1.1" />
<line x1="1058.5" y1="1336" x2="1055.9" y2="1336" stroke="#262626" stroke-width="1.1" />
<line x1="583.7" y1="1323.2" x2="586.3" y2="1323.2" stroke="#262626" stroke-width="1.1" />
<line x1="1058.5" y1="1323.2" x2="1055.9" y2="1323.2" stroke="#262626" stroke-width="1.1" />
<line x1="583.7" y1="1312.4" x2="586.3" y2="1312.4" stroke="#262626" stroke-width="1.1" />
<line x1="1058.5" y1="1312.4" x2="1055.9" y2="1312.4" stroke="#262626" stroke-width="1.1" />
<line x1="583.7" y1="1303" x2="586.3" y2="1303" stroke="#262626" stroke-width="1.1" />
<line x1="1058.5" y1="1303" x2="1055.9" y2="1303" stroke="#262626" stroke-width="1.1" />
<line x1="583.7" y1="1294.8" x2="586.3" y2="1294.8" stroke="#262626" stroke-width="1.1" />
<line x1="1058.5" y1="1294.8" x2="1055.9" y2="1294.8" stroke="#262626" stroke-width="1.1" />
<line x1="583.7" y1="1287.4" x2="589.7" y2="1287.4" stroke="#262626" stroke-width="1.1" />
<line x1="1058.5" y1="1287.4" x2="1052.5" y2="1287.4" stroke="#262626" stroke-width="1.1" />
<line x1="583.7" y1="1238.8" x2="586.3" y2="1238.8" stroke="#262626" stroke-width="1.1" />
<line x1="1058.5" y1="1238.8" x2="1055.9" y2="1238.8" stroke="#262626" stroke-width="1.1" />
<line x1="583.7" y1="1210.4" x2="586.3" y2="1210.4" stroke="#262626" stroke-width="1.1" />
<line x1="1058.5" y1="1210.4" x2="1055.9" y2="1210.4" stroke="#262626" stroke-width="1.1" />
<line x1="583.7" y1="1190.2" x2="586.3" y2="1190.2" stroke="#262626" stroke-width="1.1" />
<line x1="1058.5" y1="1190.2" x2="1055.9" y2="1190.2" stroke="#262626" stroke-width="1.1" />
<line x1="583.7" y1="1174.6" x2="586.3" y2="1174.6" stroke="#262626" stroke-width="1.1" />
<line x1="1058.5" y1="1174.6" x2="1055.9" y2="1174.6" stroke="#262626" stroke-width="1.1" />
<line x1="583.7" y1="1161.8" x2="586.3" y2="1161.8" stroke="#262626" stroke-width="1.1" />
<line x1="1058.5" y1="1161.8" x2="1055.9" y2="1161.8" stroke="#262626" stroke-width="1.1" />
<line x1="583.7" y1="1151" x2="586.3" y2="1151" stroke="#262626" stroke-width="1.1" />
<line x1="1058.5" y1="1151" x2="1055.9" y2="1151" stroke="#262626" stroke-width="1.1" />
<line x1="583.7" y1="1141.6" x2="586.3" y2="1141.6" stroke="#262626" stroke-width="1.1" />
<line x1="1058.5" y1="1141.6" x2="1055.9" y2="1141.6" stroke="#262626" stroke-width="1.1" />
<line x1="583.7" y1="1133.4" x2="586.3" y2="1133.4" stroke="#262626" stroke-width="1.1" />
<line x1="1058.5" y1="1133.4" x2="1055.9" y2="1133.4" stroke="#262626" stroke-width="1.1" />
<line x1="583.7" y1="1126" x2="589.7" y2="1126" stroke="#262626" stroke-width="1.1" />
<line x1="1058.5" y1="1126" x2="1052.5" y2="1126" stroke="#262626" stroke-width="1.1" />
<line x1="583.7" y1="1077.4" x2="586.3" y2="1077.4" stroke="#262626" stroke-width="1.1" />
<line x1="1058.5" y1="1077.4" x2="1055.9" y2="1077.4" stroke="#262626" stroke-width="1.1" />
<line x1="583.7" y1="1049" x2="586.3" y2="1049" stroke="#262626" stroke-width="1.1" />
<line x1="1058.5" y1="1049" x2="1055.9" y2="1049" stroke="#262626" stroke-width="1.1" />
<line x1="583.7" y1="1028.8" x2="586.3" y2="1028.8" stroke="#262626" stroke-width="1.1" />
<line x1="1058.5" y1="1028.8" x2="1055.9" y2="1028.8" stroke="#262626" stroke-width="1.1" />
<line x1="583.7" y1="1013.2" x2="586.3" y2="1013.2" stroke="#262626" stroke-width="1.1" />
<line x1="1058.5" y1="1013.2" x2="1055.9" y2="1013.2" stroke="#262626" stroke-width="1.1" />
<line x1="583.7" y1="1000.4" x2="586.3" y2="1000.4" stroke="#262626" stroke-width="1.1" />
<line x1="1058.5" y1="1000.4" x2="1055.9" y2="1000.4" stroke="#262626" stroke-width="1.1" />
<line x1="583.7" y1="989.6" x2="586.3" y2="989.6" stroke="#262626" stroke-width="1.1" />
<line x1="1058.5" y1="989.6" x2="1055.9" y2="989.6" stroke="#262626" stroke-width="1.1" />
<line x1="583.7" y1="980.2" x2="586.3" y2="980.2" stroke="#262626" stroke-width="1.1" />
<line x1="1058.5" y1="980.2" x2="1055.9" y2="980.2" stroke="#262626" stroke-width="1.1" />
<line x1="583.7" y1="972" x2="586.3" y2="972" stroke="#262626" stroke-width="1.1" />
<line x1="1058.5" y1="972" x2="1055.9" y2="972" stroke="#262626" stroke-width="1.1" />
<line x1="583.7" y1="964.6" x2="589.7" y2="964.6" stroke="#262626" stroke-width="1.1" />
<line x1="1058.5" y1="964.6" x2="1052.5" y2="964.6" stroke="#262626" stroke-width="1.1" />
<line x1="583.7" y1="916" x2="586.3" y2="916" stroke="#262626" stroke-width="1.1" />
<line x1="1058.5" y1="916" x2="1055.9" y2="916" stroke="#262626" stroke-width="1.1" />
<line x1="583.7" y1="887.6" x2="586.3" y2="887.6" stroke="#262626" stroke-width="1.1" />
<line x1="1058.5" y1="887.6" x2="1055.9" y2="887.6" stroke="#262626" stroke-width="1.1" />
<line x1="583.7" y1="867.4" x2="586.3" y2="867.4" stroke="#262626" stroke-width="1.1" />
<line x1="1058.5" y1="867.4" x2="1055.9" y2="867.4" stroke="#262626" stroke-width="1.1" />
<line x1="583.7" y1="851.8" x2="586.3" y2="851.8" stroke="#262626" stroke-width="1.1" />
<line x1="1058.5" y1="851.8" x2="1055.9" y2="851.8" stroke="#262626" stroke-width="1.1" />
<line x1="583.7" y1="839" x2="586.3" y2="839" stroke="#262626" stroke-width="1.1" />
<line x1="1058.5" y1="839" x2="1055.9" y2="839" stroke="#262626" stroke-width="1.1" />
<line x1="583.7" y1="828.2" x2="586.3" y2="828.2" stroke="#262626" stroke-width="1.1" />
<line x1="1058.5" y1="828.2" x2="1055.9" y2="828.2" stroke="#262626" stroke-width="1.1" />
<line x1="583.7" y1="818.8" x2="586.3" y2="818.8" stroke="#262626" stroke-width="1.1" />
<line x1="1058.5" y1="818.8" x2="1055.9" y2="818.8" stroke="#262626" stroke-width="1.1" />
<line x1="583.7" y1="810.6" x2="586.3" y2="810.6" stroke="#262626" stroke-width="1.1" />
<line x1="1058.5" y1="810.6" x2="1055.9" y2="810.6" stroke="#262626" stroke-width="1.1" />
<line x1="583.7" y1="803.2" x2="589.7" y2="803.2" stroke="#262626" stroke-width="1.1" />
<line x1="1058.5" y1="803.2" x2="1052.5" y2="803.2" stroke="#262626" stroke-width="1.1" />
<line x1="1058.5" y1="1368.1" x2="1052" y2="1368.1" stroke="#262626" stroke-width="1.1" />
<line x1="583.7" y1="1368.1" x2="590.2" y2="1368.1" stroke="#262626" stroke-width="1.1" />
<line x1="1058.5" y1="1287.4" x2="1052" y2="1287.4" stroke="#262626" stroke-width="1.1" />
<line x1="583.7" y1="1287.4" x2="590.2" y2="1287.4" stroke="#262626" stroke-width="1.1" />
<line x1="1058.5" y1="1206.7" x2="1052" y2="1206.7" stroke="#262626" stroke-width="1.1" />
<line x1="583.7" y1="1206.7" x2="590.2" y2="1206.7" stroke="#262626" stroke-width="1.1" />
<line x1="1058.5" y1="1126" x2="1052" y2="1126" stroke="#262626" stroke-width="1.1" />
<line x1="583.7" y1="1126" x2="590.2" y2="1126" stroke="#262626" stroke-width="1.1" />
<line x1="1058.5" y1="1045.3" x2="1052" y2="1045.3" stroke="#262626" stroke-width="1.1" />
<line x1="583.7" y1="1045.3" x2="590.2" y2="1045.3" stroke="#262626" stroke-width="1.1" />
<line x1="1058.5" y1="964.6" x2="1052" y2="964.6" stroke="#262626" stroke-width="1.1" />
<line x1="583.7" y1="964.6" x2="590.2" y2="964.6" stroke="#262626" stroke-width="1.1" />
<line x1="1058.5" y1="883.9" x2="1052" y2="883.9" stroke="#262626" stroke-width="1.1" />
<line x1="583.7" y1="883.9" x2="590.2" y2="883.9" stroke="#262626" stroke-width="1.1" />
<line x1="604.9" y1="1448.8" x2="604.9" y2="1442.3" stroke="#262626" stroke-width="1.2" />
<line x1="604.9" y1="803.2" x2="604.9" y2="809.7" stroke="#262626" stroke-width="1.2" />
<line x1="713" y1="1448.8" x2="713" y2="1442.3" stroke="#262626" stroke-width="1.2" />
<line x1="713" y1="803.2" x2="713" y2="809.7" stroke="#262626" stroke-width="1.2" />
<line x1="821.6" y1="1448.8" x2="821.6" y2="1442.3" stroke="#262626" stroke-width="1.2" />
<line x1="821.6" y1="803.2" x2="821.6" y2="809.7" stroke="#262626" stroke-width="1.2" />
<line x1="930.2" y1="1448.8" x2="930.2" y2="1442.3" stroke="#262626" stroke-width="1.2" />
<line x1="930.2" y1="803.2" x2="930.2" y2="809.7" stroke="#262626" stroke-width="1.2" />
<line x1="1037.8" y1="1448.8" x2="1037.8" y2="1442.3" stroke="#262626" stroke-width="1.2" />
<line x1="1037.8" y1="803.2" x2="1037.8" y2="809.7" stroke="#262626" stroke-width="1.2" />
<rect x="583.7" y="803.2" width="474.8" height="645.6" fill="none" stroke="#262626" stroke-width="1.6"/>
<line x1="583.7" y1="1287.4" x2="1058.5" y2="1287.4" stroke="#e2e2e2" stroke-width="1" stroke-dasharray="8,4"/>
<line x1="583.7" y1="1126" x2="1058.5" y2="1126" stroke="#e2e2e2" stroke-width="1" stroke-dasharray="8,4"/>
<line x1="583.7" y1="964.6" x2="1058.5" y2="964.6" stroke="#e2e2e2" stroke-width="1" stroke-dasharray="8,4"/>
<circle cx="604.5" cy="952.6" r="5.5" fill="#e8501f"/>
<circle cx="658.6" cy="941.8" r="5.5" fill="#e8501f"/>
<circle cx="692.2" cy="979.4" r="5.5" fill="#e8501f"/>
<circle cx="779.9" cy="941.8" r="5.5" fill="#e8501f"/>
<circle cx="934.5" cy="865.1" r="5.5" fill="#e8501f"/>
<circle cx="1038.4" cy="982.6" r="5.5" fill="#e8501f"/>
<circle cx="867.7" cy="1064.9" r="5.5" fill="#e8501f"/>
<circle cx="955.2" cy="1097.6" r="5.5" fill="#e8501f"/>
<circle cx="896.6" cy="1141.8" r="5.5" fill="#e8501f"/>
<circle cx="1017.4" cy="1238.6" r="5.5" fill="#e8501f"/>
<polyline points="583.7,1441.4 583.9,1444.9 587.8,1438.5 592.5,1436.6 596.4,1433.8 600.2,1434.7 605.1,1434.7 607,1391.2 608.9,1335.6 609.9,1261.6 612.3,966.4 613.9,843.2 615.1,931.1 616.1,990.5 618.2,1110.4 619.5,1168.9 621.4,1261.6 626.3,1330.1 630.7,1335.6 634.9,1291.2 639.7,1274.5 643.6,1307.9 648.4,1319 652.2,1343.1 661.3,1369.9 665.3,1297.7 667.6,1313.4 674.4,1379.1 678.8,1263.4 681.1,1265.2 683.1,1269.9 686.9,1331.9 691.8,1363.5 696.6,1380.1 704.3,1394 710.1,1404.2 713,1405.1 717.8,1377.3 722.5,1398.7 726.5,1409.8 730.3,1412.5 735.1,1406.1 736,1354.2 738.9,1231 740.9,1261.6 743.8,1308.8 748.6,1306 749.9,1188.7 752.2,884.2 753.5,971.7 756.1,1072.3 759.5,1207.8 760.8,1225.4 765.3,1152.6 769.7,1242.9 773.8,1126.3 776.5,1202.2 782.3,1274.5 788,1220.7 792.8,1168.9 795.2,1059.8 799.9,1042.3 804.4,1122.5 805.7,1168.9 808.6,1252.3 812.4,1287.4 816.3,1315.3 824,1343.1 829.7,1353.3 834.6,1313.4 839,1280 842.8,1303.2 847.1,1272.7 851.9,1225.4 855.8,1223.5 864.4,1254.1 874,1302.3 881.7,1335.6 895.2,1374.6 902.9,1383.8 912.5,1391.2 919.3,1399.4 924,1406.1 929.9,1408 934.1,1408 935.1,1304.4 936.9,1100.7 938.3,946.3 940.4,1066.8 943.3,1202.6 947.5,1270.5 952.7,1338.4 959.8,1379 968.7,1397.8 975.7,1404.5 980.9,1404.5 984.6,1401.1 993.3,1409.7 1003.9,1418.1 1012.8,1421.5 1026.9,1424.9 1037.4,1419.9 1045.5,1397.8 1051.4,1381.4 1055.3,1381.4 1058.5,1352" fill="none" stroke="#111" stroke-width="0.9" stroke-linejoin="round"/>
<line x1="583.7" y1="1199.9" x2="1058.5" y2="1199.9" stroke="#000" stroke-width="3.4" stroke-dasharray="11.5,9.25"/>
<line x1="922.2" y1="1193" x2="922.2" y2="903.3" stroke="#000" stroke-width="4.6" />
<path d="M922.2,876.8 L936.5,910.3 L922.2,904.3 L907.9,910.3 Z" fill="#000"/>
<text x="853.3" y="959.1" font-size="26" text-anchor="start" font-weight="bold" fill="#000" >120x</text>
<text x="1069" y="1454.8" font-size="17" text-anchor="start" font-weight="normal" fill="#000" >0</text>
<text x="1069" y="1293.4" font-size="17" text-anchor="start" font-weight="normal" fill="#000" >2</text>
<text x="1069" y="1132" font-size="17" text-anchor="start" font-weight="normal" fill="#000" >4</text>
<text x="1069" y="970.6" font-size="17" text-anchor="start" font-weight="normal" fill="#000" >6</text>
<text x="1069" y="814.2" font-size="17" text-anchor="start" font-weight="normal" fill="#000" >8</text>
<text x="611.9" y="1473.8" font-size="20" text-anchor="end" transform="rotate(-45 611.9 1473.8)">Jun 2022</text>
<text x="719" y="1473.8" font-size="20" text-anchor="end" transform="rotate(-45 719 1473.8)">Jul 2022</text>
<text x="827.6" y="1473.8" font-size="20" text-anchor="end" transform="rotate(-45 827.6 1473.8)">Aug 2022</text>
<text x="936.2" y="1474.8" font-size="20" text-anchor="end" transform="rotate(-45 936.2 1474.8)">Sep 2022</text>
<text x="1044.8" y="1474.8" font-size="20" text-anchor="end" transform="rotate(-45 1044.8 1474.8)">Oct 2022</text>
<text font-size="31" transform="translate(1111.8 969.3) rotate(90) scale(0.991 1)">Discharge (m<tspan font-size="22" dy="-14">3</tspan><tspan dy="14"> s</tspan><tspan font-size="22" dy="-14">-1</tspan><tspan dy="14">)</tspan></text>
<line x1="1302.4" y1="1457.6" x2="1308.4" y2="1457.6" stroke="#262626" stroke-width="1.1" />
<line x1="2041" y1="1457.6" x2="2035" y2="1457.6" stroke="#262626" stroke-width="1.1" />
<line x1="1302.4" y1="1408.3" x2="1305" y2="1408.3" stroke="#262626" stroke-width="1.1" />
<line x1="2041" y1="1408.3" x2="2038.4" y2="1408.3" stroke="#262626" stroke-width="1.1" />
<line x1="1302.4" y1="1379.4" x2="1305" y2="1379.4" stroke="#262626" stroke-width="1.1" />
<line x1="2041" y1="1379.4" x2="2038.4" y2="1379.4" stroke="#262626" stroke-width="1.1" />
<line x1="1302.4" y1="1359" x2="1305" y2="1359" stroke="#262626" stroke-width="1.1" />
<line x1="2041" y1="1359" x2="2038.4" y2="1359" stroke="#262626" stroke-width="1.1" />
<line x1="1302.4" y1="1343.1" x2="1305" y2="1343.1" stroke="#262626" stroke-width="1.1" />
<line x1="2041" y1="1343.1" x2="2038.4" y2="1343.1" stroke="#262626" stroke-width="1.1" />
<line x1="1302.4" y1="1330.1" x2="1305" y2="1330.1" stroke="#262626" stroke-width="1.1" />
<line x1="2041" y1="1330.1" x2="2038.4" y2="1330.1" stroke="#262626" stroke-width="1.1" />
<line x1="1302.4" y1="1319.1" x2="1305" y2="1319.1" stroke="#262626" stroke-width="1.1" />
<line x1="2041" y1="1319.1" x2="2038.4" y2="1319.1" stroke="#262626" stroke-width="1.1" />
<line x1="1302.4" y1="1309.6" x2="1305" y2="1309.6" stroke="#262626" stroke-width="1.1" />
<line x1="2041" y1="1309.6" x2="2038.4" y2="1309.6" stroke="#262626" stroke-width="1.1" />
<line x1="1302.4" y1="1301.2" x2="1305" y2="1301.2" stroke="#262626" stroke-width="1.1" />
<line x1="2041" y1="1301.2" x2="2038.4" y2="1301.2" stroke="#262626" stroke-width="1.1" />
<line x1="1302.4" y1="1293.8" x2="1308.4" y2="1293.8" stroke="#262626" stroke-width="1.1" />
<line x1="2041" y1="1293.8" x2="2035" y2="1293.8" stroke="#262626" stroke-width="1.1" />
<line x1="1302.4" y1="1244.4" x2="1305" y2="1244.4" stroke="#262626" stroke-width="1.1" />
<line x1="2041" y1="1244.4" x2="2038.4" y2="1244.4" stroke="#262626" stroke-width="1.1" />
<line x1="1302.4" y1="1215.6" x2="1305" y2="1215.6" stroke="#262626" stroke-width="1.1" />
<line x1="2041" y1="1215.6" x2="2038.4" y2="1215.6" stroke="#262626" stroke-width="1.1" />
<line x1="1302.4" y1="1195.1" x2="1305" y2="1195.1" stroke="#262626" stroke-width="1.1" />
<line x1="2041" y1="1195.1" x2="2038.4" y2="1195.1" stroke="#262626" stroke-width="1.1" />
<line x1="1302.4" y1="1179.2" x2="1305" y2="1179.2" stroke="#262626" stroke-width="1.1" />
<line x1="2041" y1="1179.2" x2="2038.4" y2="1179.2" stroke="#262626" stroke-width="1.1" />
<line x1="1302.4" y1="1166.2" x2="1305" y2="1166.2" stroke="#262626" stroke-width="1.1" />
<line x1="2041" y1="1166.2" x2="2038.4" y2="1166.2" stroke="#262626" stroke-width="1.1" />
<line x1="1302.4" y1="1155.3" x2="1305" y2="1155.3" stroke="#262626" stroke-width="1.1" />
<line x1="2041" y1="1155.3" x2="2038.4" y2="1155.3" stroke="#262626" stroke-width="1.1" />
<line x1="1302.4" y1="1145.8" x2="1305" y2="1145.8" stroke="#262626" stroke-width="1.1" />
<line x1="2041" y1="1145.8" x2="2038.4" y2="1145.8" stroke="#262626" stroke-width="1.1" />
<line x1="1302.4" y1="1137.4" x2="1305" y2="1137.4" stroke="#262626" stroke-width="1.1" />
<line x1="2041" y1="1137.4" x2="2038.4" y2="1137.4" stroke="#262626" stroke-width="1.1" />
<line x1="1302.4" y1="1129.9" x2="1308.4" y2="1129.9" stroke="#262626" stroke-width="1.1" />
<line x1="2041" y1="1129.9" x2="2035" y2="1129.9" stroke="#262626" stroke-width="1.1" />
<line x1="1302.4" y1="1080.6" x2="1305" y2="1080.6" stroke="#262626" stroke-width="1.1" />
<line x1="2041" y1="1080.6" x2="2038.4" y2="1080.6" stroke="#262626" stroke-width="1.1" />
<line x1="1302.4" y1="1051.7" x2="1305" y2="1051.7" stroke="#262626" stroke-width="1.1" />
<line x1="2041" y1="1051.7" x2="2038.4" y2="1051.7" stroke="#262626" stroke-width="1.1" />
<line x1="1302.4" y1="1031.3" x2="1305" y2="1031.3" stroke="#262626" stroke-width="1.1" />
<line x1="2041" y1="1031.3" x2="2038.4" y2="1031.3" stroke="#262626" stroke-width="1.1" />
<line x1="1302.4" y1="1015.4" x2="1305" y2="1015.4" stroke="#262626" stroke-width="1.1" />
<line x1="2041" y1="1015.4" x2="2038.4" y2="1015.4" stroke="#262626" stroke-width="1.1" />
<line x1="1302.4" y1="1002.4" x2="1305" y2="1002.4" stroke="#262626" stroke-width="1.1" />
<line x1="2041" y1="1002.4" x2="2038.4" y2="1002.4" stroke="#262626" stroke-width="1.1" />
<line x1="1302.4" y1="991.4" x2="1305" y2="991.4" stroke="#262626" stroke-width="1.1" />
<line x1="2041" y1="991.4" x2="2038.4" y2="991.4" stroke="#262626" stroke-width="1.1" />
<line x1="1302.4" y1="981.9" x2="1305" y2="981.9" stroke="#262626" stroke-width="1.1" />
<line x1="2041" y1="981.9" x2="2038.4" y2="981.9" stroke="#262626" stroke-width="1.1" />
<line x1="1302.4" y1="973.5" x2="1305" y2="973.5" stroke="#262626" stroke-width="1.1" />
<line x1="2041" y1="973.5" x2="2038.4" y2="973.5" stroke="#262626" stroke-width="1.1" />
<line x1="1302.4" y1="966" x2="1308.4" y2="966" stroke="#262626" stroke-width="1.1" />
<line x1="2041" y1="966" x2="2035" y2="966" stroke="#262626" stroke-width="1.1" />
<line x1="1302.4" y1="916.7" x2="1305" y2="916.7" stroke="#262626" stroke-width="1.1" />
<line x1="2041" y1="916.7" x2="2038.4" y2="916.7" stroke="#262626" stroke-width="1.1" />
<line x1="1302.4" y1="887.9" x2="1305" y2="887.9" stroke="#262626" stroke-width="1.1" />
<line x1="2041" y1="887.9" x2="2038.4" y2="887.9" stroke="#262626" stroke-width="1.1" />
<line x1="1302.4" y1="867.4" x2="1305" y2="867.4" stroke="#262626" stroke-width="1.1" />
<line x1="2041" y1="867.4" x2="2038.4" y2="867.4" stroke="#262626" stroke-width="1.1" />
<line x1="1302.4" y1="851.5" x2="1305" y2="851.5" stroke="#262626" stroke-width="1.1" />
<line x1="2041" y1="851.5" x2="2038.4" y2="851.5" stroke="#262626" stroke-width="1.1" />
<line x1="1302.4" y1="838.5" x2="1305" y2="838.5" stroke="#262626" stroke-width="1.1" />
<line x1="2041" y1="838.5" x2="2038.4" y2="838.5" stroke="#262626" stroke-width="1.1" />
<line x1="1302.4" y1="827.6" x2="1305" y2="827.6" stroke="#262626" stroke-width="1.1" />
<line x1="2041" y1="827.6" x2="2038.4" y2="827.6" stroke="#262626" stroke-width="1.1" />
<line x1="1302.4" y1="818.1" x2="1305" y2="818.1" stroke="#262626" stroke-width="1.1" />
<line x1="2041" y1="818.1" x2="2038.4" y2="818.1" stroke="#262626" stroke-width="1.1" />
<line x1="1302.4" y1="809.7" x2="1305" y2="809.7" stroke="#262626" stroke-width="1.1" />
<line x1="2041" y1="809.7" x2="2038.4" y2="809.7" stroke="#262626" stroke-width="1.1" />
<line x1="1302.4" y1="802.2" x2="1308.4" y2="802.2" stroke="#262626" stroke-width="1.1" />
<line x1="2041" y1="802.2" x2="2035" y2="802.2" stroke="#262626" stroke-width="1.1" />
<line x1="1487" y1="1457.6" x2="1487" y2="1451.1" stroke="#262626" stroke-width="1.2" />
<line x1="1487" y1="802.2" x2="1487" y2="808.7" stroke="#262626" stroke-width="1.2" />
<line x1="1857" y1="1457.6" x2="1857" y2="1451.1" stroke="#262626" stroke-width="1.2" />
<line x1="1857" y1="802.2" x2="1857" y2="808.7" stroke="#262626" stroke-width="1.2" />
<rect x="1302.4" y="802.2" width="738.6" height="655.4" fill="none" stroke="#262626" stroke-width="1.6"/>
<rect x="1413" y="1101.7" width="148" height="143.2" fill="#c8ecf6" stroke="#1a1a1a" stroke-width="2.6"/>
<line x1="1414.5" y1="1205.4" x2="1559.5" y2="1205.4" stroke="#2a5a72" stroke-width="2.6" />
<line x1="1487" y1="1244.9" x2="1487" y2="1294.7" stroke="#333" stroke-width="1.3" stroke-dasharray="9,6"/>
<line x1="1451" y1="1294.7" x2="1523" y2="1294.7" stroke="#555" stroke-width="1.6" />
<line x1="1480.2" y1="966.5" x2="1493.8" y2="966.5" stroke="#6fb3b0" stroke-width="1.1" />
<line x1="1487" y1="959" x2="1487" y2="974" stroke="#6fb3b0" stroke-width="1.1" />
<line x1="1480.2" y1="1012.9" x2="1493.8" y2="1012.9" stroke="#6fb3b0" stroke-width="1.1" />
<line x1="1487" y1="1005.4" x2="1487" y2="1020.4" stroke="#6fb3b0" stroke-width="1.1" />
<rect x="1783" y="942.4" width="148" height="159.3" fill="#f0b497" stroke="#1a1a1a" stroke-width="2.6"/>
<line x1="1784.5" y1="982.3" x2="1929.5" y2="982.3" stroke="#9a2a10" stroke-width="2.6" />
<line x1="1857" y1="1101.7" x2="1857" y2="1244.9" stroke="#333" stroke-width="1.3" stroke-dasharray="9,6"/>
<line x1="1820.5" y1="1244.9" x2="1893.5" y2="1244.9" stroke="#555" stroke-width="1.6" />
<line x1="1850.2" y1="864.9" x2="1863.8" y2="864.9" stroke="#a03030" stroke-width="1.1" />
<line x1="1857" y1="857.4" x2="1857" y2="872.4" stroke="#a03030" stroke-width="1.1" />
<text x="1293" y="1464.1" font-size="19" text-anchor="end">10<tspan font-size="16" dx="1" dy="-8.6">-1</tspan></text>
<text x="1293" y="1311" font-size="19" text-anchor="end">10<tspan font-size="16" dx="1" dy="-8.6">0</tspan></text>
<text x="1293" y="1146.8" font-size="19" text-anchor="end">10<tspan font-size="16" dx="1" dy="-8.6">1</tspan></text>
<text x="1293" y="985.3" font-size="19" text-anchor="end">10<tspan font-size="16" dx="1" dy="-8.6">2</tspan></text>
<text x="1293" y="813.7" font-size="19" text-anchor="end">10<tspan font-size="16" dx="1" dy="-8.6">3</tspan></text>
<text x="1489.5" y="1490.5" font-size="27" text-anchor="middle" font-weight="normal" fill="#000" textLength="90" lengthAdjust="spacingAndGlyphs">Pre-fire</text>
<text x="1852.4" y="1487.5" font-size="27" text-anchor="middle" font-weight="normal" fill="#000" textLength="101.5" lengthAdjust="spacingAndGlyphs">Post-fire</text>
<text font-size="31" transform="translate(1232 1404.5) rotate(-90) scale(1.024 1)">Turbidity (JTU pre-fire and NTRU post-fire)</text>
</svg></body></html>
